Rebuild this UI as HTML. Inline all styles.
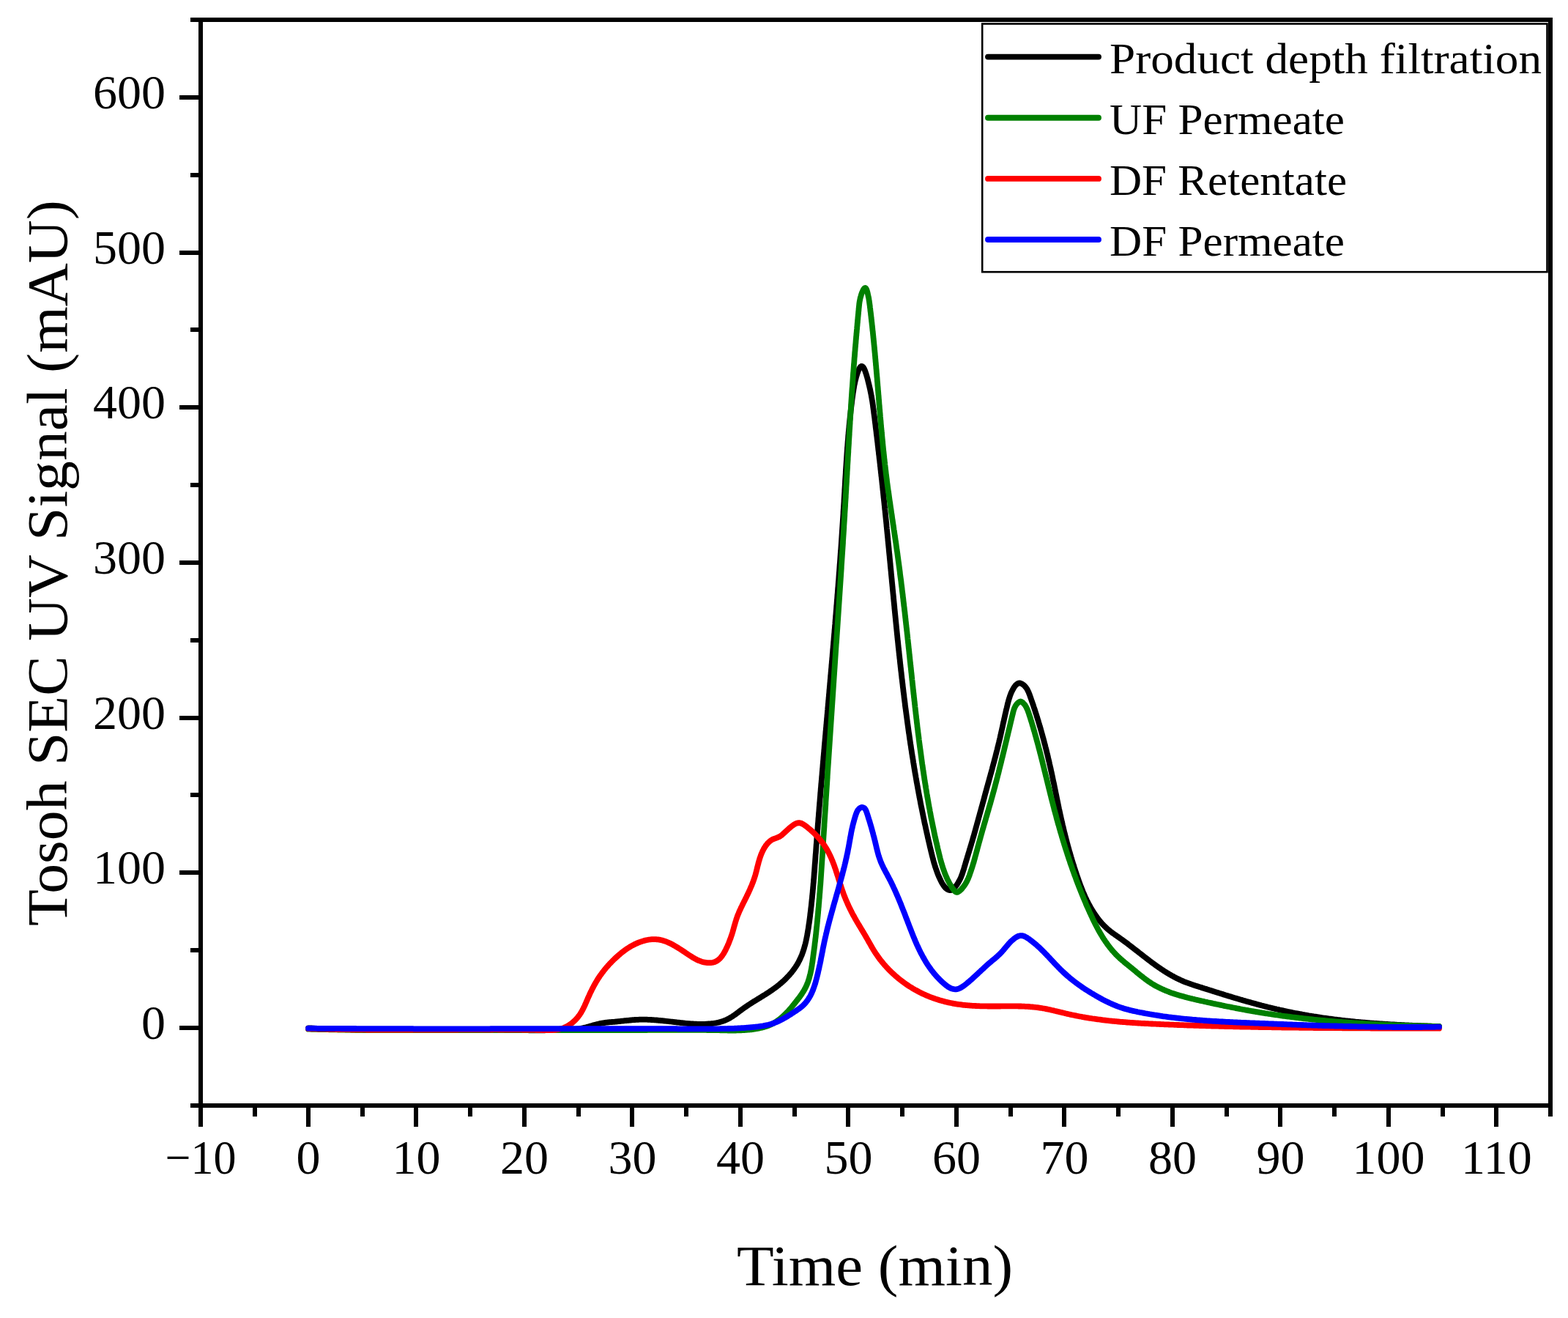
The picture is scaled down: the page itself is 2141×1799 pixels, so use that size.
<!DOCTYPE html>
<html><head><meta charset="utf-8"><title>Tosoh SEC UV Signal</title>
<style>html,body{margin:0;padding:0;background:#fff;overflow:hidden}svg{display:block}text{font-family:"Liberation Serif",serif;fill:#000}</style></head><body>
<svg xmlns="http://www.w3.org/2000/svg" width="2141" height="1799" viewBox="0 0 2141 1799">
<rect x="0" y="0" width="2141" height="1799" fill="#fff"/>
<path d="M421.0,1403.3L422.5,1403.4L424.0,1403.5L425.5,1403.5L427.0,1403.6L428.5,1403.7L430.0,1403.8L431.5,1403.8L433.0,1403.9L434.5,1404.0L436.0,1404.0L437.5,1404.1L439.0,1404.2L440.5,1404.2L442.0,1404.3L443.5,1404.3L445.0,1404.4L446.5,1404.5L448.0,1404.5L449.5,1404.6L451.0,1404.6L452.5,1404.7L454.0,1404.7L455.5,1404.8L457.0,1404.8L458.5,1404.9L460.0,1404.9L461.5,1405.0L463.0,1405.0L464.5,1405.1L466.0,1405.1L467.5,1405.2L469.0,1405.2L470.5,1405.2L472.0,1405.3L473.5,1405.3L475.0,1405.4L476.5,1405.4L478.0,1405.4L479.5,1405.5L481.0,1405.5L482.5,1405.5L484.0,1405.6L485.5,1405.6L487.0,1405.6L488.5,1405.6L490.0,1405.7L491.5,1405.7L493.0,1405.7L494.5,1405.7L496.0,1405.8L497.5,1405.8L499.0,1405.8L500.5,1405.8L502.0,1405.9L503.5,1405.9L505.0,1405.9L506.5,1405.9L508.0,1405.9L509.5,1405.9L511.0,1406.0L512.5,1406.0L514.0,1406.0L515.5,1406.0L517.0,1406.0L518.5,1406.0L520.0,1406.0L521.5,1406.1L523.0,1406.1L524.5,1406.1L526.0,1406.1L527.5,1406.1L529.0,1406.1L530.5,1406.1L532.0,1406.1L533.5,1406.1L535.0,1406.1L536.5,1406.1L538.0,1406.1L539.5,1406.1L541.0,1406.1L542.5,1406.1L544.0,1406.2L545.5,1406.2L547.0,1406.2L548.5,1406.2L550.0,1406.2L551.5,1406.2L553.0,1406.2L554.5,1406.2L556.0,1406.2L557.5,1406.2L559.0,1406.2L560.5,1406.2L562.0,1406.1L563.5,1406.1L565.0,1406.1L566.5,1406.1L568.0,1406.1L569.5,1406.1L571.0,1406.1L572.5,1406.1L574.0,1406.1L575.5,1406.1L577.0,1406.1L578.5,1406.1L580.0,1406.1L581.5,1406.1L583.0,1406.1L584.5,1406.1L586.0,1406.1L587.5,1406.1L589.0,1406.1L590.5,1406.1L592.0,1406.1L593.5,1406.0L595.0,1406.0L596.5,1406.0L598.0,1406.0L599.5,1406.0L601.0,1406.0L602.5,1406.0L604.0,1406.0L605.5,1406.0L607.0,1406.0L608.5,1406.0L610.0,1406.0L611.5,1406.0L613.0,1406.0L614.5,1405.9L616.0,1405.9L617.5,1405.9L619.0,1405.9L620.5,1405.9L622.0,1405.9L623.5,1405.9L625.0,1405.9L626.5,1405.9L628.0,1405.9L629.5,1405.9L631.0,1405.9L632.5,1405.9L634.0,1405.9L635.5,1405.9L637.0,1405.9L638.5,1405.9L640.0,1405.9L641.5,1405.9L643.0,1405.8L644.5,1405.8L646.0,1405.8L647.5,1405.8L649.0,1405.8L650.5,1405.8L652.0,1405.8L653.5,1405.8L655.0,1405.8L656.5,1405.8L658.0,1405.8L659.5,1405.8L661.0,1405.8L662.5,1405.8L664.0,1405.8L665.5,1405.8L667.0,1405.8L668.5,1405.8L670.0,1405.9L671.5,1405.9L673.0,1405.9L674.5,1405.9L676.0,1405.9L677.5,1405.9L679.0,1405.9L680.5,1405.9L682.0,1405.9L683.5,1405.9L685.0,1405.9L686.5,1405.9L688.0,1405.9L689.5,1406.0L691.0,1406.0L692.5,1406.0L694.0,1406.0L695.5,1406.0L697.0,1406.0L698.5,1406.0L700.0,1406.0L701.5,1406.1L703.0,1406.1L704.5,1406.1L706.0,1406.1L707.5,1406.1L709.1,1406.1L710.6,1406.2L712.1,1406.2L713.6,1406.2L715.1,1406.2L716.6,1406.2L718.1,1406.2L719.6,1406.2L721.1,1406.2L722.6,1406.3L724.1,1406.3L725.6,1406.3L727.1,1406.3L728.6,1406.3L730.1,1406.3L731.6,1406.3L733.1,1406.3L734.6,1406.3L736.1,1406.3L737.6,1406.3L739.1,1406.3L740.6,1406.3L742.1,1406.3L743.6,1406.3L745.1,1406.2L746.6,1406.2L748.1,1406.2L749.6,1406.2L751.1,1406.2L752.6,1406.2L754.1,1406.1L755.6,1406.1L757.1,1406.1L758.6,1406.0L760.0,1406.0L761.5,1406.0L763.0,1405.9L764.5,1405.9L766.0,1405.8L767.5,1405.8L769.0,1405.7L770.5,1405.7L772.0,1405.6L773.5,1405.5L775.0,1405.5L776.5,1405.4L778.0,1405.3L779.5,1405.3L781.0,1405.2L782.5,1405.1L784.0,1404.9L785.5,1404.8L787.0,1404.7L788.5,1404.5L789.9,1404.3L791.4,1404.1L792.9,1403.8L794.4,1403.5L795.8,1403.2L797.3,1402.9L798.7,1402.5L800.2,1402.2L801.7,1401.8L803.1,1401.4L804.6,1401.0L806.0,1400.6L807.5,1400.2L808.9,1399.8L810.4,1399.3L811.8,1398.9L813.3,1398.6L814.7,1398.2L816.2,1397.8L817.6,1397.5L819.1,1397.1L820.6,1396.8L822.0,1396.5L823.5,1396.3L825.0,1396.1L826.5,1395.9L828.0,1395.7L829.5,1395.5L831.0,1395.4L832.5,1395.2L834.0,1395.1L835.5,1395.0L837.0,1394.9L838.5,1394.8L840.0,1394.6L841.5,1394.5L843.0,1394.4L844.4,1394.2L845.9,1394.1L847.4,1393.9L848.9,1393.7L850.4,1393.6L851.9,1393.4L853.4,1393.2L854.9,1393.1L856.4,1392.9L857.9,1392.8L859.4,1392.6L860.9,1392.5L862.4,1392.4L863.9,1392.2L865.4,1392.1L866.9,1392.0L868.4,1391.9L869.9,1391.8L871.4,1391.8L872.9,1391.7L874.3,1391.7L875.8,1391.7L877.3,1391.7L878.8,1391.7L880.3,1391.7L881.8,1391.7L883.3,1391.7L884.8,1391.8L886.3,1391.9L887.8,1391.9L889.3,1392.0L890.8,1392.1L892.3,1392.2L893.8,1392.3L895.3,1392.4L896.8,1392.5L898.2,1392.6L899.7,1392.8L901.2,1392.9L902.7,1393.1L904.2,1393.2L905.7,1393.4L907.2,1393.5L908.7,1393.7L910.2,1393.8L911.7,1394.0L913.2,1394.2L914.7,1394.3L916.2,1394.5L917.7,1394.7L919.2,1394.9L920.7,1395.0L922.2,1395.2L923.7,1395.4L925.2,1395.6L926.7,1395.7L928.2,1395.9L929.7,1396.1L931.2,1396.2L932.7,1396.4L934.2,1396.5L935.7,1396.7L937.2,1396.8L938.7,1397.0L940.2,1397.1L941.7,1397.2L943.2,1397.3L944.7,1397.4L946.2,1397.5L947.7,1397.6L949.2,1397.7L950.7,1397.7L952.2,1397.8L953.7,1397.8L955.2,1397.9L956.7,1397.9L958.2,1397.9L959.7,1397.9L961.2,1397.8L962.7,1397.8L964.2,1397.7L965.7,1397.6L967.2,1397.5L968.7,1397.4L970.1,1397.3L971.6,1397.1L973.1,1397.0L974.6,1396.8L976.1,1396.5L977.5,1396.3L979.0,1396.0L980.5,1395.7L981.9,1395.4L983.3,1395.0L984.8,1394.6L986.2,1394.1L987.6,1393.7L988.9,1393.2L990.3,1392.6L991.7,1392.0L993.0,1391.4L994.3,1390.7L995.7,1390.0L997.0,1389.3L998.2,1388.5L999.5,1387.7L1000.8,1386.9L1002.0,1386.0L1003.3,1385.2L1004.5,1384.3L1005.7,1383.4L1007.0,1382.5L1008.2,1381.6L1009.4,1380.6L1010.6,1379.7L1011.9,1378.8L1013.1,1377.9L1014.3,1377.0L1015.6,1376.1L1016.8,1375.2L1018.0,1374.4L1019.3,1373.5L1020.5,1372.7L1021.8,1371.9L1023.0,1371.0L1024.3,1370.2L1025.6,1369.4L1026.8,1368.6L1028.1,1367.8L1029.3,1367.0L1030.6,1366.3L1031.9,1365.5L1033.1,1364.7L1034.4,1363.9L1035.7,1363.1L1036.9,1362.4L1038.2,1361.6L1039.5,1360.8L1040.7,1360.0L1042.0,1359.3L1043.2,1358.5L1044.5,1357.7L1045.8,1356.9L1047.0,1356.1L1048.3,1355.3L1049.5,1354.5L1050.7,1353.7L1052.0,1352.8L1053.2,1352.0L1054.4,1351.2L1055.6,1350.3L1056.9,1349.4L1058.1,1348.6L1059.3,1347.7L1060.5,1346.8L1061.7,1345.8L1062.8,1344.9L1064.0,1343.9L1065.2,1343.0L1066.3,1342.0L1067.5,1341.0L1068.6,1340.0L1069.8,1339.0L1070.9,1337.9L1072.0,1336.9L1073.1,1335.8L1074.1,1334.7L1075.2,1333.6L1076.3,1332.5L1077.3,1331.4L1078.3,1330.2L1079.3,1329.1L1080.3,1327.9L1081.3,1326.7L1082.2,1325.5L1083.1,1324.3L1084.0,1323.1L1084.9,1321.9L1085.8,1320.6L1086.6,1319.4L1087.4,1318.1L1088.2,1316.9L1089.0,1315.6L1089.7,1314.3L1090.4,1313.0L1091.1,1311.7L1091.8,1310.3L1092.4,1309.0L1093.0,1307.6L1093.6,1306.3L1094.2,1304.9L1094.8,1303.6L1095.3,1302.2L1095.8,1300.8L1096.3,1299.4L1096.8,1298.0L1097.2,1296.6L1097.7,1295.2L1098.1,1293.7L1098.5,1292.3L1098.9,1290.9L1099.3,1289.4L1099.7,1288.0L1100.0,1286.5L1100.4,1285.1L1100.7,1283.6L1101.0,1282.2L1101.3,1280.7L1101.6,1279.2L1101.9,1277.7L1102.2,1276.3L1102.4,1274.8L1102.7,1273.3L1102.9,1271.8L1103.2,1270.3L1103.4,1268.9L1103.7,1267.4L1103.9,1265.9L1104.1,1264.4L1104.3,1262.9L1104.5,1261.4L1104.8,1259.9L1105.0,1258.4L1105.2,1256.9L1105.4,1255.5L1105.6,1254.0L1105.8,1252.5L1106.0,1251.0L1106.2,1249.5L1106.3,1248.0L1106.5,1246.5L1106.7,1245.0L1106.9,1243.5L1107.1,1242.0L1107.2,1240.5L1107.4,1239.1L1107.6,1237.6L1107.8,1236.1L1107.9,1234.6L1108.1,1233.1L1108.2,1231.6L1108.4,1230.1L1108.5,1228.6L1108.7,1227.1L1108.9,1225.6L1109.0,1224.1L1109.1,1222.6L1109.3,1221.2L1109.4,1219.7L1109.6,1218.2L1109.7,1216.7L1109.8,1215.2L1110.0,1213.7L1110.1,1212.2L1110.2,1210.7L1110.4,1209.2L1110.5,1207.7L1110.6,1206.2L1110.8,1204.7L1110.9,1203.2L1111.0,1201.7L1111.1,1200.2L1111.3,1198.8L1111.4,1197.3L1111.5,1195.8L1111.6,1194.3L1111.7,1192.8L1111.8,1191.3L1112.0,1189.8L1112.1,1188.3L1112.2,1186.8L1112.3,1185.3L1112.4,1183.8L1112.5,1182.3L1112.6,1180.8L1112.7,1179.3L1112.9,1177.8L1113.0,1176.3L1113.1,1174.8L1113.2,1173.4L1113.3,1171.9L1113.4,1170.4L1113.5,1168.9L1113.6,1167.4L1113.7,1165.9L1113.9,1164.4L1114.0,1162.9L1114.1,1161.4L1114.2,1159.9L1114.3,1158.4L1114.4,1156.9L1114.5,1155.4L1114.6,1153.9L1114.7,1152.4L1114.9,1150.9L1115.0,1149.4L1115.1,1147.9L1115.2,1146.4L1115.3,1144.9L1115.4,1143.4L1115.5,1142.0L1115.7,1140.5L1115.8,1139.0L1115.9,1137.5L1116.0,1136.0L1116.1,1134.5L1116.2,1133.0L1116.4,1131.5L1116.5,1130.0L1116.6,1128.5L1116.7,1127.0L1116.8,1125.5L1116.9,1124.0L1117.1,1122.5L1117.2,1121.0L1117.3,1119.5L1117.4,1118.0L1117.5,1116.5L1117.7,1115.0L1117.8,1113.5L1117.9,1112.0L1118.0,1110.5L1118.1,1109.0L1118.3,1107.5L1118.4,1106.1L1118.5,1104.6L1118.6,1103.1L1118.7,1101.6L1118.9,1100.1L1119.0,1098.6L1119.1,1097.1L1119.2,1095.6L1119.4,1094.1L1119.5,1092.6L1119.6,1091.1L1119.7,1089.6L1119.9,1088.1L1120.0,1086.6L1120.1,1085.1L1120.2,1083.6L1120.3,1082.1L1120.5,1080.6L1120.6,1079.1L1120.7,1077.6L1120.8,1076.1L1121.0,1074.6L1121.1,1073.1L1121.2,1071.6L1121.3,1070.1L1121.5,1068.6L1121.6,1067.2L1121.7,1065.7L1121.9,1064.2L1122.0,1062.7L1122.1,1061.2L1122.2,1059.7L1122.4,1058.2L1122.5,1056.7L1122.6,1055.2L1122.7,1053.7L1122.9,1052.2L1123.0,1050.7L1123.1,1049.2L1123.3,1047.7L1123.4,1046.2L1123.5,1044.7L1123.6,1043.2L1123.8,1041.7L1123.9,1040.2L1124.0,1038.7L1124.2,1037.2L1124.3,1035.7L1124.4,1034.2L1124.5,1032.7L1124.7,1031.2L1124.8,1029.8L1124.9,1028.3L1125.1,1026.8L1125.2,1025.3L1125.3,1023.8L1125.5,1022.3L1125.6,1020.8L1125.7,1019.3L1125.8,1017.8L1126.0,1016.3L1126.1,1014.8L1126.2,1013.3L1126.4,1011.8L1126.5,1010.3L1126.6,1008.8L1126.8,1007.3L1126.9,1005.8L1127.0,1004.3L1127.2,1002.8L1127.3,1001.3L1127.4,999.8L1127.5,998.3L1127.7,996.9L1127.8,995.4L1127.9,993.9L1128.1,992.4L1128.2,990.9L1128.3,989.4L1128.5,987.9L1128.6,986.4L1128.7,984.9L1128.9,983.4L1129.0,981.9L1129.1,980.4L1129.3,978.9L1129.4,977.4L1129.5,975.9L1129.7,974.4L1129.8,972.9L1129.9,971.4L1130.0,969.9L1130.2,968.4L1130.3,967.0L1130.4,965.5L1130.6,964.0L1130.7,962.5L1130.8,961.0L1131.0,959.5L1131.1,958.0L1131.2,956.5L1131.4,955.0L1131.5,953.5L1131.6,952.0L1131.8,950.5L1131.9,949.0L1132.0,947.5L1132.2,946.0L1132.3,944.5L1132.4,943.1L1132.5,941.6L1132.7,940.1L1132.8,938.6L1132.9,937.1L1133.1,935.6L1133.2,934.1L1133.3,932.6L1133.5,931.1L1133.6,929.6L1133.7,928.1L1133.9,926.6L1134.0,925.1L1134.1,923.6L1134.2,922.1L1134.4,920.6L1134.5,919.2L1134.6,917.7L1134.8,916.2L1134.9,914.7L1135.0,913.2L1135.2,911.7L1135.3,910.2L1135.4,908.7L1135.5,907.2L1135.7,905.7L1135.8,904.2L1135.9,902.7L1136.1,901.2L1136.2,899.7L1136.3,898.2L1136.5,896.8L1136.6,895.3L1136.7,893.8L1136.8,892.3L1137.0,890.8L1137.1,889.3L1137.2,887.8L1137.3,886.3L1137.5,884.8L1137.6,883.3L1137.7,881.8L1137.9,880.3L1138.0,878.8L1138.1,877.3L1138.2,875.8L1138.4,874.4L1138.5,872.9L1138.6,871.4L1138.7,869.9L1138.9,868.4L1139.0,866.9L1139.1,865.4L1139.3,863.9L1139.4,862.4L1139.5,860.9L1139.6,859.4L1139.8,857.9L1139.9,856.4L1140.0,854.9L1140.1,853.4L1140.3,851.9L1140.4,850.5L1140.5,849.0L1140.6,847.5L1140.7,846.0L1140.9,844.5L1141.0,843.0L1141.1,841.5L1141.2,840.0L1141.4,838.5L1141.5,837.0L1141.6,835.5L1141.7,834.0L1141.9,832.5L1142.0,831.0L1142.1,829.5L1142.2,828.0L1142.3,826.5L1142.5,825.1L1142.6,823.6L1142.7,822.1L1142.8,820.6L1142.9,819.1L1143.1,817.6L1143.2,816.1L1143.3,814.6L1143.4,813.1L1143.5,811.6L1143.7,810.1L1143.8,808.6L1143.9,807.1L1144.0,805.6L1144.1,804.1L1144.2,802.6L1144.4,801.1L1144.5,799.6L1144.6,798.1L1144.7,796.6L1144.8,795.2L1144.9,793.7L1145.1,792.2L1145.2,790.7L1145.3,789.2L1145.4,787.7L1145.5,786.2L1145.6,784.7L1145.7,783.2L1145.8,781.7L1146.0,780.2L1146.1,778.7L1146.2,777.2L1146.3,775.7L1146.4,774.2L1146.5,772.7L1146.6,771.2L1146.7,769.7L1146.9,768.2L1147.0,766.7L1147.1,765.2L1147.2,763.7L1147.3,762.2L1147.4,760.7L1147.5,759.2L1147.6,757.7L1147.7,756.2L1147.8,754.7L1147.9,753.2L1148.0,751.7L1148.2,750.3L1148.3,748.8L1148.4,747.3L1148.5,745.8L1148.6,744.3L1148.7,742.8L1148.8,741.3L1148.9,739.8L1149.0,738.3L1149.1,736.8L1149.2,735.3L1149.3,733.8L1149.4,732.3L1149.5,730.8L1149.6,729.3L1149.7,727.8L1149.8,726.3L1149.9,724.8L1150.0,723.3L1150.1,721.8L1150.2,720.3L1150.3,718.8L1150.4,717.3L1150.5,715.8L1150.6,714.3L1150.7,712.8L1150.8,711.3L1150.9,709.8L1151.0,708.3L1151.1,706.8L1151.2,705.3L1151.3,703.8L1151.4,702.3L1151.5,700.8L1151.5,699.3L1151.6,697.8L1151.7,696.3L1151.8,694.8L1151.9,693.2L1152.0,691.7L1152.1,690.2L1152.2,688.7L1152.3,687.2L1152.4,685.7L1152.5,684.2L1152.5,682.7L1152.6,681.2L1152.7,679.7L1152.8,678.2L1152.9,676.7L1153.0,675.2L1153.1,673.7L1153.2,672.2L1153.3,670.7L1153.3,669.2L1153.4,667.7L1153.5,666.2L1153.6,664.7L1153.7,663.2L1153.8,661.7L1153.9,660.2L1154.0,658.7L1154.0,657.2L1154.1,655.7L1154.2,654.2L1154.3,652.7L1154.4,651.2L1154.5,649.7L1154.6,648.2L1154.7,646.7L1154.8,645.2L1154.8,643.7L1154.9,642.2L1155.0,640.7L1155.1,639.2L1155.2,637.7L1155.3,636.2L1155.4,634.7L1155.5,633.2L1155.6,631.7L1155.7,630.2L1155.8,628.7L1155.9,627.2L1156.0,625.7L1156.1,624.2L1156.2,622.7L1156.3,621.2L1156.4,619.7L1156.5,618.2L1156.6,616.7L1156.7,615.2L1156.8,613.7L1156.9,612.2L1157.0,610.7L1157.2,609.2L1157.3,607.7L1157.4,606.2L1157.5,604.7L1157.6,603.2L1157.7,601.7L1157.9,600.3L1158.0,598.8L1158.1,597.3L1158.2,595.8L1158.3,594.3L1158.5,592.8L1158.6,591.3L1158.7,589.8L1158.9,588.4L1159.0,586.9L1159.1,585.4L1159.3,583.9L1159.4,582.4L1159.5,580.9L1159.7,579.5L1159.8,578.0L1160.0,576.5L1160.1,575.0L1160.3,573.5L1160.4,572.1L1160.6,570.6L1160.7,569.1L1160.9,567.6L1161.0,566.2L1161.2,564.7L1161.4,563.2L1161.5,561.7L1161.7,560.3L1161.9,558.8L1162.1,557.3L1162.2,555.9L1162.4,554.4L1162.6,552.9L1162.8,551.4L1163.0,550.0L1163.1,548.5L1163.3,547.1L1163.5,545.6L1163.7,544.1L1163.9,542.7L1164.1,541.2L1164.3,539.8L1164.5,538.3L1164.7,536.8L1164.9,535.4L1165.2,533.9L1165.4,532.5L1165.6,531.0L1165.9,529.5L1166.1,528.0L1166.4,526.4L1166.7,524.8L1167.1,523.2L1167.4,521.5L1167.8,519.8L1168.3,518.0L1168.7,516.1L1169.2,514.3L1169.8,512.4L1170.3,510.6L1170.9,508.9L1171.5,507.2L1172.1,505.6L1172.8,504.2L1173.4,502.9L1174.1,501.8L1174.7,500.9L1175.4,500.3L1176.1,499.9L1176.7,499.8L1177.4,500.1L1178.1,500.6L1178.7,501.3L1179.4,502.3L1180.0,503.4L1180.6,504.8L1181.2,506.3L1181.8,507.9L1182.4,509.7L1183.0,511.5L1183.5,513.4L1184.1,515.3L1184.6,517.2L1185.1,519.1L1185.5,521.0L1186.0,522.8L1186.4,524.5L1186.8,526.2L1187.2,527.9L1187.6,529.6L1188.0,531.2L1188.3,532.8L1188.6,534.3L1188.9,535.8L1189.2,537.3L1189.5,538.7L1189.8,540.2L1190.0,541.6L1190.3,543.0L1190.5,544.4L1190.7,545.8L1191.0,547.1L1191.2,548.5L1191.4,549.8L1191.6,551.2L1191.8,552.5L1192.0,553.8L1192.1,555.2L1192.3,556.5L1192.5,557.9L1192.7,559.2L1192.9,560.6L1193.1,562.0L1193.2,563.4L1193.4,564.8L1193.6,566.2L1193.8,567.7L1194.0,569.1L1194.2,570.5L1194.4,572.0L1194.5,573.5L1194.7,574.9L1194.9,576.4L1195.1,577.9L1195.3,579.4L1195.5,580.9L1195.6,582.4L1195.8,583.9L1196.0,585.4L1196.2,586.9L1196.4,588.4L1196.6,589.9L1196.7,591.5L1196.9,593.0L1197.1,594.5L1197.3,596.0L1197.5,597.5L1197.6,599.1L1197.8,600.6L1198.0,602.1L1198.2,603.6L1198.4,605.1L1198.5,606.6L1198.7,608.2L1198.9,609.7L1199.1,611.2L1199.2,612.7L1199.4,614.2L1199.6,615.7L1199.8,617.2L1199.9,618.7L1200.1,620.2L1200.3,621.7L1200.5,623.2L1200.6,624.7L1200.8,626.2L1201.0,627.7L1201.2,629.2L1201.3,630.7L1201.5,632.2L1201.7,633.7L1201.8,635.2L1202.0,636.7L1202.2,638.2L1202.3,639.7L1202.5,641.2L1202.7,642.7L1202.8,644.2L1203.0,645.7L1203.2,647.2L1203.3,648.7L1203.5,650.1L1203.7,651.6L1203.8,653.1L1204.0,654.6L1204.2,656.1L1204.3,657.6L1204.5,659.1L1204.6,660.6L1204.8,662.1L1205.0,663.5L1205.1,665.0L1205.3,666.5L1205.4,668.0L1205.6,669.5L1205.8,671.0L1205.9,672.5L1206.1,673.9L1206.2,675.4L1206.4,676.9L1206.5,678.4L1206.7,679.9L1206.9,681.4L1207.0,682.9L1207.2,684.4L1207.3,685.8L1207.5,687.3L1207.6,688.8L1207.8,690.3L1207.9,691.8L1208.1,693.3L1208.2,694.8L1208.4,696.2L1208.6,697.7L1208.7,699.2L1208.9,700.7L1209.0,702.2L1209.2,703.7L1209.3,705.2L1209.5,706.7L1209.6,708.2L1209.8,709.6L1209.9,711.1L1210.1,712.6L1210.2,714.1L1210.4,715.6L1210.5,717.1L1210.6,718.6L1210.8,720.1L1210.9,721.6L1211.1,723.0L1211.2,724.5L1211.4,726.0L1211.5,727.5L1211.7,729.0L1211.8,730.5L1212.0,732.0L1212.1,733.5L1212.3,735.0L1212.4,736.5L1212.5,738.0L1212.7,739.4L1212.8,740.9L1213.0,742.4L1213.1,743.9L1213.3,745.4L1213.4,746.9L1213.6,748.4L1213.7,749.9L1213.8,751.4L1214.0,752.9L1214.1,754.4L1214.3,755.9L1214.4,757.4L1214.6,758.8L1214.7,760.3L1214.8,761.8L1215.0,763.3L1215.1,764.8L1215.3,766.3L1215.4,767.8L1215.6,769.3L1215.7,770.8L1215.8,772.3L1216.0,773.8L1216.1,775.3L1216.3,776.8L1216.4,778.3L1216.6,779.8L1216.7,781.3L1216.8,782.7L1217.0,784.2L1217.1,785.7L1217.3,787.2L1217.4,788.7L1217.6,790.2L1217.7,791.7L1217.8,793.2L1218.0,794.7L1218.1,796.2L1218.3,797.7L1218.4,799.2L1218.6,800.7L1218.7,802.2L1218.8,803.7L1219.0,805.2L1219.1,806.7L1219.3,808.2L1219.4,809.7L1219.6,811.1L1219.7,812.6L1219.9,814.1L1220.0,815.6L1220.1,817.1L1220.3,818.6L1220.4,820.1L1220.6,821.6L1220.7,823.1L1220.9,824.6L1221.0,826.1L1221.2,827.6L1221.3,829.1L1221.4,830.6L1221.6,832.1L1221.7,833.6L1221.9,835.1L1222.0,836.6L1222.2,838.1L1222.3,839.5L1222.5,841.0L1222.6,842.5L1222.8,844.0L1222.9,845.5L1223.1,847.0L1223.2,848.5L1223.4,850.0L1223.5,851.5L1223.7,853.0L1223.8,854.5L1224.0,856.0L1224.1,857.5L1224.3,859.0L1224.4,860.5L1224.6,862.0L1224.7,863.5L1224.9,865.0L1225.0,866.5L1225.2,867.9L1225.3,869.4L1225.5,870.9L1225.6,872.4L1225.8,873.9L1226.0,875.4L1226.1,876.9L1226.3,878.4L1226.4,879.9L1226.6,881.4L1226.7,882.9L1226.9,884.4L1227.1,885.9L1227.2,887.4L1227.4,888.9L1227.5,890.4L1227.7,891.8L1227.8,893.3L1228.0,894.8L1228.2,896.3L1228.3,897.8L1228.5,899.3L1228.7,900.8L1228.8,902.3L1229.0,903.8L1229.1,905.3L1229.3,906.8L1229.5,908.3L1229.6,909.8L1229.8,911.2L1230.0,912.7L1230.1,914.2L1230.3,915.7L1230.5,917.2L1230.7,918.7L1230.8,920.2L1231.0,921.7L1231.2,923.2L1231.3,924.7L1231.5,926.2L1231.7,927.6L1231.9,929.1L1232.0,930.6L1232.2,932.1L1232.4,933.6L1232.6,935.1L1232.7,936.6L1232.9,938.1L1233.1,939.6L1233.3,941.1L1233.4,942.5L1233.6,944.0L1233.8,945.5L1234.0,947.0L1234.2,948.5L1234.4,950.0L1234.5,951.5L1234.7,953.0L1234.9,954.5L1235.1,955.9L1235.3,957.4L1235.5,958.9L1235.7,960.4L1235.8,961.9L1236.0,963.4L1236.2,964.9L1236.4,966.4L1236.6,967.8L1236.8,969.3L1237.0,970.8L1237.2,972.3L1237.4,973.8L1237.6,975.3L1237.8,976.8L1238.0,978.3L1238.2,979.7L1238.4,981.2L1238.6,982.7L1238.8,984.2L1239.0,985.7L1239.2,987.2L1239.4,988.7L1239.6,990.1L1239.8,991.6L1240.0,993.1L1240.2,994.6L1240.4,996.1L1240.6,997.6L1240.8,999.0L1241.0,1000.5L1241.3,1002.0L1241.5,1003.5L1241.7,1005.0L1241.9,1006.5L1242.1,1007.9L1242.3,1009.4L1242.6,1010.9L1242.8,1012.4L1243.0,1013.9L1243.2,1015.4L1243.4,1016.8L1243.7,1018.3L1243.9,1019.8L1244.1,1021.3L1244.3,1022.8L1244.6,1024.3L1244.8,1025.7L1245.0,1027.2L1245.2,1028.7L1245.5,1030.2L1245.7,1031.7L1245.9,1033.1L1246.2,1034.6L1246.4,1036.1L1246.7,1037.6L1246.9,1039.1L1247.1,1040.6L1247.4,1042.0L1247.6,1043.5L1247.9,1045.0L1248.1,1046.5L1248.3,1048.0L1248.6,1049.4L1248.8,1050.9L1249.1,1052.4L1249.3,1053.9L1249.6,1055.4L1249.8,1056.8L1250.1,1058.3L1250.4,1059.8L1250.6,1061.3L1250.9,1062.7L1251.1,1064.2L1251.4,1065.7L1251.6,1067.2L1251.9,1068.7L1252.2,1070.1L1252.4,1071.6L1252.7,1073.1L1253.0,1074.6L1253.2,1076.0L1253.5,1077.5L1253.8,1079.0L1254.1,1080.5L1254.3,1082.0L1254.6,1083.4L1254.9,1084.9L1255.2,1086.4L1255.4,1087.9L1255.7,1089.3L1256.0,1090.8L1256.3,1092.3L1256.6,1093.8L1256.8,1095.2L1257.1,1096.7L1257.4,1098.2L1257.7,1099.7L1258.0,1101.1L1258.3,1102.6L1258.6,1104.1L1258.9,1105.5L1259.2,1107.0L1259.5,1108.5L1259.8,1110.0L1260.1,1111.4L1260.4,1112.9L1260.7,1114.4L1261.0,1115.9L1261.3,1117.3L1261.6,1118.8L1261.9,1120.3L1262.2,1121.7L1262.5,1123.2L1262.8,1124.7L1263.2,1126.1L1263.5,1127.6L1263.8,1129.1L1264.1,1130.5L1264.4,1132.0L1264.8,1133.5L1265.1,1134.9L1265.4,1136.4L1265.7,1137.9L1266.1,1139.3L1266.4,1140.8L1266.7,1142.3L1267.0,1143.7L1267.4,1145.2L1267.7,1146.6L1268.0,1148.1L1268.4,1149.6L1268.7,1151.0L1269.1,1152.5L1269.4,1153.9L1269.7,1155.4L1270.1,1156.9L1270.4,1158.3L1270.8,1159.8L1271.1,1161.2L1271.5,1162.7L1271.8,1164.1L1272.2,1165.6L1272.5,1167.0L1272.9,1168.5L1273.3,1169.9L1273.7,1171.4L1274.0,1172.8L1274.4,1174.3L1274.8,1175.7L1275.2,1177.2L1275.6,1178.6L1276.1,1180.0L1276.5,1181.5L1276.9,1182.9L1277.4,1184.3L1277.9,1185.7L1278.4,1187.1L1278.9,1188.6L1279.4,1190.0L1279.9,1191.4L1280.4,1192.8L1281.0,1194.2L1281.6,1195.6L1282.2,1197.0L1282.8,1198.3L1283.5,1199.7L1284.1,1201.1L1284.8,1202.5L1285.5,1203.8L1286.2,1205.2L1287.0,1206.5L1287.8,1207.8L1288.7,1209.1L1289.6,1210.3L1290.6,1211.5L1291.7,1212.5L1292.9,1213.5L1294.2,1214.3L1295.6,1214.8L1296.9,1215.1L1298.3,1215.1L1299.5,1214.7L1300.7,1214.0L1301.9,1213.0L1303.0,1212.0L1304.0,1210.8L1305.0,1209.7L1305.9,1208.5L1306.8,1207.3L1307.6,1206.0L1308.4,1204.7L1309.1,1203.4L1309.8,1202.1L1310.5,1200.8L1311.2,1199.4L1311.8,1198.1L1312.4,1196.7L1312.9,1195.3L1313.5,1193.9L1314.0,1192.5L1314.5,1191.0L1314.9,1189.6L1315.4,1188.1L1315.9,1186.7L1316.3,1185.2L1316.7,1183.8L1317.2,1182.3L1317.6,1180.9L1318.0,1179.4L1318.4,1178.0L1318.9,1176.5L1319.3,1175.1L1319.7,1173.6L1320.2,1172.2L1320.6,1170.8L1321.0,1169.3L1321.5,1167.9L1321.9,1166.5L1322.3,1165.0L1322.8,1163.6L1323.2,1162.2L1323.6,1160.8L1324.1,1159.3L1324.5,1157.9L1324.9,1156.5L1325.4,1155.0L1325.8,1153.6L1326.2,1152.2L1326.6,1150.7L1327.1,1149.3L1327.5,1147.9L1327.9,1146.4L1328.3,1145.0L1328.7,1143.6L1329.2,1142.1L1329.6,1140.7L1330.0,1139.2L1330.4,1137.8L1330.8,1136.4L1331.2,1134.9L1331.6,1133.5L1332.0,1132.0L1332.4,1130.6L1332.8,1129.1L1333.2,1127.7L1333.6,1126.3L1334.0,1124.8L1334.4,1123.4L1334.8,1121.9L1335.2,1120.5L1335.6,1119.0L1336.0,1117.6L1336.4,1116.1L1336.8,1114.7L1337.2,1113.2L1337.6,1111.8L1338.0,1110.3L1338.4,1108.9L1338.8,1107.4L1339.2,1106.0L1339.6,1104.5L1340.0,1103.1L1340.4,1101.6L1340.8,1100.2L1341.2,1098.7L1341.6,1097.3L1342.0,1095.8L1342.4,1094.4L1342.8,1092.9L1343.2,1091.5L1343.6,1090.0L1344.0,1088.6L1344.4,1087.1L1344.7,1085.7L1345.1,1084.3L1345.5,1082.8L1345.9,1081.4L1346.3,1079.9L1346.7,1078.5L1347.1,1077.0L1347.5,1075.6L1347.9,1074.1L1348.3,1072.7L1348.7,1071.2L1349.1,1069.8L1349.5,1068.4L1349.9,1066.9L1350.3,1065.5L1350.7,1064.0L1351.1,1062.6L1351.5,1061.1L1351.9,1059.7L1352.3,1058.3L1352.7,1056.8L1353.1,1055.4L1353.5,1053.9L1353.9,1052.5L1354.3,1051.0L1354.7,1049.6L1355.0,1048.1L1355.4,1046.7L1355.8,1045.2L1356.2,1043.8L1356.6,1042.3L1357.0,1040.9L1357.4,1039.5L1357.7,1038.0L1358.1,1036.6L1358.5,1035.1L1358.9,1033.7L1359.3,1032.2L1359.6,1030.8L1360.0,1029.3L1360.4,1027.9L1360.7,1026.4L1361.1,1024.9L1361.5,1023.5L1361.8,1022.0L1362.2,1020.6L1362.6,1019.1L1362.9,1017.7L1363.3,1016.2L1363.6,1014.7L1364.0,1013.3L1364.3,1011.8L1364.7,1010.4L1365.0,1008.9L1365.4,1007.4L1365.7,1006.0L1366.0,1004.5L1366.4,1003.0L1366.7,1001.6L1367.0,1000.1L1367.4,998.6L1367.7,997.1L1368.0,995.7L1368.3,994.2L1368.7,992.7L1369.0,991.3L1369.3,989.8L1369.6,988.3L1369.9,986.8L1370.3,985.4L1370.6,983.9L1370.9,982.4L1371.2,981.0L1371.6,979.5L1371.9,978.0L1372.2,976.6L1372.5,975.1L1372.9,973.7L1373.2,972.2L1373.5,970.8L1373.9,969.3L1374.2,967.9L1374.6,966.4L1374.9,965.0L1375.3,963.5L1375.6,962.1L1376.0,960.6L1376.3,959.2L1376.7,957.8L1377.1,956.3L1377.5,954.9L1377.9,953.5L1378.4,952.1L1378.8,950.7L1379.3,949.2L1379.9,947.8L1380.4,946.4L1381.0,945.0L1381.7,943.6L1382.4,942.2L1383.2,940.7L1384.0,939.3L1384.8,937.9L1385.8,936.6L1386.7,935.4L1387.8,934.4L1388.9,933.5L1390.0,932.8L1391.2,932.5L1392.5,932.4L1393.8,932.7L1395.1,933.3L1396.4,934.1L1397.7,935.0L1398.8,936.1L1399.9,937.2L1400.8,938.3L1401.7,939.5L1402.5,940.8L1403.2,942.1L1403.8,943.4L1404.5,944.8L1405.0,946.2L1405.6,947.6L1406.1,949.0L1406.6,950.5L1407.1,951.9L1407.6,953.3L1408.1,954.7L1408.6,956.2L1409.1,957.6L1409.6,959.0L1410.1,960.5L1410.6,961.9L1411.1,963.3L1411.5,964.8L1412.0,966.2L1412.5,967.6L1413.0,969.1L1413.4,970.5L1413.9,971.9L1414.3,973.4L1414.8,974.8L1415.3,976.2L1415.7,977.7L1416.1,979.1L1416.6,980.5L1417.0,982.0L1417.5,983.4L1417.9,984.8L1418.3,986.3L1418.8,987.7L1419.2,989.2L1419.6,990.6L1420.0,992.0L1420.5,993.5L1420.9,994.9L1421.3,996.4L1421.7,997.8L1422.1,999.2L1422.5,1000.7L1422.9,1002.1L1423.3,1003.6L1423.7,1005.0L1424.1,1006.5L1424.5,1007.9L1424.9,1009.3L1425.3,1010.8L1425.6,1012.2L1426.0,1013.7L1426.4,1015.1L1426.8,1016.6L1427.2,1018.0L1427.5,1019.5L1427.9,1020.9L1428.3,1022.4L1428.6,1023.8L1429.0,1025.3L1429.3,1026.7L1429.7,1028.2L1430.1,1029.6L1430.4,1031.1L1430.8,1032.6L1431.1,1034.0L1431.4,1035.5L1431.8,1036.9L1432.1,1038.4L1432.5,1039.8L1432.8,1041.3L1433.1,1042.8L1433.5,1044.2L1433.8,1045.7L1434.1,1047.1L1434.5,1048.6L1434.8,1050.1L1435.1,1051.5L1435.4,1053.0L1435.8,1054.4L1436.1,1055.9L1436.4,1057.4L1436.7,1058.8L1437.0,1060.3L1437.3,1061.8L1437.6,1063.2L1437.9,1064.7L1438.2,1066.2L1438.6,1067.7L1438.9,1069.1L1439.2,1070.6L1439.5,1072.1L1439.8,1073.5L1440.1,1075.0L1440.4,1076.5L1440.7,1078.0L1441.0,1079.4L1441.3,1080.9L1441.6,1082.4L1441.9,1083.8L1442.2,1085.3L1442.5,1086.8L1442.8,1088.3L1443.1,1089.7L1443.4,1091.2L1443.7,1092.7L1444.0,1094.1L1444.3,1095.6L1444.6,1097.1L1444.9,1098.6L1445.2,1100.0L1445.5,1101.5L1445.8,1103.0L1446.1,1104.4L1446.5,1105.9L1446.8,1107.4L1447.1,1108.8L1447.4,1110.3L1447.7,1111.8L1448.0,1113.2L1448.4,1114.7L1448.7,1116.2L1449.0,1117.6L1449.3,1119.1L1449.7,1120.6L1450.0,1122.0L1450.4,1123.5L1450.7,1125.0L1451.0,1126.4L1451.4,1127.9L1451.7,1129.3L1452.1,1130.8L1452.4,1132.2L1452.8,1133.7L1453.1,1135.2L1453.5,1136.6L1453.9,1138.1L1454.2,1139.5L1454.6,1141.0L1455.0,1142.4L1455.3,1143.9L1455.7,1145.3L1456.1,1146.8L1456.5,1148.2L1456.8,1149.7L1457.2,1151.1L1457.6,1152.6L1458.0,1154.0L1458.4,1155.5L1458.8,1156.9L1459.2,1158.3L1459.6,1159.8L1460.0,1161.2L1460.4,1162.7L1460.8,1164.1L1461.3,1165.6L1461.7,1167.0L1462.1,1168.4L1462.5,1169.9L1462.9,1171.3L1463.4,1172.7L1463.8,1174.2L1464.2,1175.6L1464.7,1177.0L1465.1,1178.5L1465.6,1179.9L1466.0,1181.3L1466.5,1182.8L1466.9,1184.2L1467.4,1185.6L1467.9,1187.0L1468.3,1188.5L1468.8,1189.9L1469.3,1191.3L1469.7,1192.7L1470.2,1194.2L1470.7,1195.6L1471.2,1197.0L1471.7,1198.4L1472.2,1199.8L1472.7,1201.3L1473.2,1202.7L1473.7,1204.1L1474.2,1205.5L1474.7,1206.9L1475.2,1208.3L1475.8,1209.7L1476.3,1211.1L1476.9,1212.5L1477.4,1213.9L1478.0,1215.3L1478.5,1216.7L1479.1,1218.1L1479.7,1219.4L1480.3,1220.8L1480.9,1222.2L1481.5,1223.6L1482.1,1224.9L1482.8,1226.3L1483.4,1227.6L1484.0,1229.0L1484.7,1230.3L1485.4,1231.7L1486.1,1233.0L1486.8,1234.3L1487.5,1235.6L1488.2,1236.9L1488.9,1238.2L1489.7,1239.5L1490.4,1240.8L1491.2,1242.1L1492.0,1243.4L1492.8,1244.7L1493.6,1245.9L1494.4,1247.2L1495.3,1248.4L1496.1,1249.7L1497.0,1250.9L1497.9,1252.1L1498.8,1253.3L1499.7,1254.5L1500.6,1255.7L1501.6,1256.9L1502.6,1258.0L1503.5,1259.2L1504.5,1260.3L1505.5,1261.4L1506.6,1262.5L1507.6,1263.6L1508.7,1264.6L1509.8,1265.7L1510.8,1266.7L1511.9,1267.7L1513.1,1268.7L1514.2,1269.7L1515.4,1270.6L1516.5,1271.5L1517.7,1272.4L1518.9,1273.3L1520.1,1274.2L1521.4,1275.0L1522.6,1275.9L1523.8,1276.7L1525.0,1277.6L1526.3,1278.5L1527.5,1279.3L1528.7,1280.2L1529.9,1281.0L1531.1,1281.9L1532.4,1282.8L1533.6,1283.7L1534.8,1284.6L1536.0,1285.5L1537.2,1286.3L1538.4,1287.2L1539.6,1288.1L1540.8,1289.1L1542.0,1290.0L1543.2,1290.9L1544.4,1291.8L1545.5,1292.7L1546.7,1293.6L1547.9,1294.5L1549.1,1295.5L1550.3,1296.4L1551.5,1297.3L1552.7,1298.2L1553.9,1299.1L1555.0,1300.1L1556.2,1301.0L1557.4,1301.9L1558.6,1302.8L1559.8,1303.7L1561.0,1304.7L1562.1,1305.6L1563.3,1306.5L1564.5,1307.4L1565.7,1308.3L1566.9,1309.2L1568.1,1310.2L1569.3,1311.1L1570.5,1312.0L1571.7,1312.9L1572.9,1313.8L1574.1,1314.7L1575.3,1315.5L1576.5,1316.4L1577.7,1317.3L1578.9,1318.2L1580.1,1319.0L1581.4,1319.9L1582.6,1320.8L1583.8,1321.6L1585.1,1322.5L1586.3,1323.3L1587.6,1324.1L1588.8,1324.9L1590.1,1325.8L1591.4,1326.6L1592.7,1327.4L1593.9,1328.1L1595.2,1328.9L1596.5,1329.7L1597.8,1330.4L1599.1,1331.2L1600.4,1331.9L1601.8,1332.6L1603.1,1333.4L1604.4,1334.1L1605.7,1334.7L1607.1,1335.4L1608.4,1336.1L1609.8,1336.7L1611.1,1337.4L1612.5,1338.0L1613.9,1338.6L1615.2,1339.2L1616.6,1339.8L1618.0,1340.3L1619.4,1340.9L1620.8,1341.4L1622.2,1341.9L1623.6,1342.4L1625.0,1342.9L1626.4,1343.4L1627.9,1343.9L1629.3,1344.4L1630.7,1344.8L1632.1,1345.3L1633.6,1345.8L1635.0,1346.2L1636.4,1346.7L1637.8,1347.1L1639.3,1347.6L1640.7,1348.0L1642.1,1348.5L1643.6,1348.9L1645.0,1349.4L1646.4,1349.8L1647.9,1350.3L1649.3,1350.7L1650.7,1351.2L1652.2,1351.6L1653.6,1352.1L1655.0,1352.5L1656.5,1353.0L1657.9,1353.4L1659.3,1353.9L1660.8,1354.3L1662.2,1354.8L1663.6,1355.2L1665.0,1355.7L1666.5,1356.1L1667.9,1356.6L1669.4,1357.0L1670.8,1357.5L1672.2,1357.9L1673.7,1358.4L1675.1,1358.8L1676.5,1359.2L1678.0,1359.7L1679.4,1360.1L1680.8,1360.5L1682.3,1361.0L1683.7,1361.4L1685.1,1361.9L1686.6,1362.3L1688.0,1362.7L1689.5,1363.1L1690.9,1363.6L1692.3,1364.0L1693.8,1364.4L1695.2,1364.8L1696.7,1365.3L1698.1,1365.7L1699.5,1366.1L1701.0,1366.5L1702.4,1366.9L1703.9,1367.3L1705.3,1367.7L1706.8,1368.1L1708.2,1368.5L1709.7,1368.9L1711.1,1369.3L1712.6,1369.7L1714.0,1370.1L1715.4,1370.5L1716.9,1370.9L1718.3,1371.3L1719.8,1371.7L1721.2,1372.1L1722.7,1372.5L1724.1,1372.8L1725.6,1373.2L1727.1,1373.6L1728.5,1373.9L1730.0,1374.3L1731.4,1374.7L1732.9,1375.0L1734.3,1375.4L1735.8,1375.7L1737.2,1376.1L1738.7,1376.4L1740.2,1376.8L1741.6,1377.1L1743.1,1377.5L1744.5,1377.8L1746.0,1378.1L1747.5,1378.5L1748.9,1378.8L1750.4,1379.1L1751.9,1379.4L1753.3,1379.7L1754.8,1380.1L1756.3,1380.4L1757.7,1380.7L1759.2,1381.0L1760.7,1381.3L1762.1,1381.6L1763.6,1381.9L1765.1,1382.2L1766.6,1382.5L1768.0,1382.8L1769.5,1383.0L1771.0,1383.3L1772.4,1383.6L1773.9,1383.9L1775.4,1384.2L1776.9,1384.4L1778.3,1384.7L1779.8,1385.0L1781.3,1385.2L1782.8,1385.5L1784.3,1385.7L1785.7,1386.0L1787.2,1386.3L1788.7,1386.5L1790.2,1386.7L1791.6,1387.0L1793.1,1387.2L1794.6,1387.5L1796.1,1387.7L1797.6,1387.9L1799.1,1388.2L1800.5,1388.4L1802.0,1388.6L1803.5,1388.8L1805.0,1389.1L1806.5,1389.3L1808.0,1389.5L1809.4,1389.7L1810.9,1389.9L1812.4,1390.1L1813.9,1390.3L1815.4,1390.5L1816.9,1390.7L1818.4,1390.9L1819.9,1391.1L1821.3,1391.3L1822.8,1391.5L1824.3,1391.7L1825.8,1391.9L1827.3,1392.1L1828.8,1392.2L1830.3,1392.4L1831.8,1392.6L1833.3,1392.8L1834.7,1392.9L1836.2,1393.1L1837.7,1393.3L1839.2,1393.4L1840.7,1393.6L1842.2,1393.7L1843.7,1393.9L1845.2,1394.1L1846.7,1394.2L1848.2,1394.4L1849.7,1394.5L1851.2,1394.7L1852.7,1394.8L1854.2,1394.9L1855.6,1395.1L1857.1,1395.2L1858.6,1395.3L1860.1,1395.5L1861.6,1395.6L1863.1,1395.7L1864.6,1395.9L1866.1,1396.0L1867.6,1396.1L1869.1,1396.2L1870.6,1396.3L1872.1,1396.5L1873.6,1396.6L1875.1,1396.7L1876.6,1396.8L1878.1,1396.9L1879.6,1397.0L1881.1,1397.1L1882.6,1397.2L1884.1,1397.3L1885.6,1397.4L1887.1,1397.5L1888.6,1397.6L1890.1,1397.7L1891.6,1397.8L1893.1,1397.9L1894.5,1398.0L1896.0,1398.1L1897.5,1398.2L1899.0,1398.3L1900.5,1398.4L1902.0,1398.5L1903.5,1398.5L1905.0,1398.6L1906.5,1398.7L1908.0,1398.8L1909.5,1398.9L1911.0,1398.9L1912.5,1399.0L1914.0,1399.1L1915.5,1399.2L1917.0,1399.2L1918.5,1399.3L1920.0,1399.4L1921.5,1399.4L1923.0,1399.5L1924.5,1399.6L1926.0,1399.6L1927.5,1399.7L1929.0,1399.8L1930.5,1399.8L1932.0,1399.9L1933.5,1400.0L1935.0,1400.0L1936.5,1400.1L1938.0,1400.1L1939.5,1400.2L1941.0,1400.3L1942.5,1400.3L1944.0,1400.4L1945.5,1400.4L1947.0,1400.5L1948.5,1400.5L1950.0,1400.6L1951.5,1400.6L1953.0,1400.7L1954.5,1400.7L1956.0,1400.8L1957.5,1400.8L1959.0,1400.9L1960.5,1400.9L1962.0,1401.0L1963.5,1401.0L1965.0,1401.1" fill="none" stroke="#000" stroke-width="7.80" stroke-linejoin="round" stroke-linecap="round"/>
<path d="M421.0,1404.7L422.5,1404.7L424.0,1404.7L425.5,1404.8L427.0,1404.8L428.5,1404.8L430.0,1404.9L431.5,1404.9L433.0,1404.9L434.5,1405.0L436.0,1405.0L437.5,1405.0L439.0,1405.1L440.5,1405.1L442.0,1405.1L443.5,1405.1L445.0,1405.2L446.5,1405.2L448.0,1405.2L449.5,1405.3L451.0,1405.3L452.5,1405.3L454.0,1405.3L455.5,1405.4L457.0,1405.4L458.5,1405.4L460.0,1405.4L461.5,1405.5L463.0,1405.5L464.5,1405.5L466.0,1405.5L467.5,1405.5L469.0,1405.6L470.5,1405.6L472.0,1405.6L473.5,1405.6L475.0,1405.6L476.5,1405.7L478.0,1405.7L479.5,1405.7L481.0,1405.7L482.5,1405.7L484.0,1405.7L485.5,1405.8L487.0,1405.8L488.5,1405.8L490.0,1405.8L491.5,1405.8L493.0,1405.8L494.5,1405.8L496.0,1405.9L497.5,1405.9L499.0,1405.9L500.5,1405.9L502.0,1405.9L503.5,1405.9L505.0,1405.9L506.5,1405.9L508.0,1405.9L509.5,1406.0L511.0,1406.0L512.5,1406.0L514.0,1406.0L515.5,1406.0L517.0,1406.0L518.5,1406.0L520.0,1406.0L521.5,1406.0L523.0,1406.0L524.5,1406.0L526.0,1406.0L527.5,1406.1L529.0,1406.1L530.5,1406.1L532.0,1406.1L533.5,1406.1L535.0,1406.1L536.5,1406.1L538.0,1406.1L539.5,1406.1L541.0,1406.1L542.5,1406.1L544.0,1406.1L545.5,1406.1L547.0,1406.1L548.5,1406.1L550.0,1406.1L551.5,1406.1L553.0,1406.1L554.5,1406.1L556.0,1406.1L557.5,1406.1L559.0,1406.1L560.5,1406.1L562.0,1406.1L563.5,1406.1L565.0,1406.1L566.5,1406.1L568.0,1406.1L569.5,1406.1L571.0,1406.1L572.5,1406.1L574.0,1406.1L575.5,1406.1L577.0,1406.1L578.5,1406.1L580.0,1406.1L581.5,1406.1L583.0,1406.1L584.5,1406.1L586.0,1406.1L587.5,1406.1L589.0,1406.1L590.5,1406.1L592.0,1406.1L593.5,1406.1L595.0,1406.1L596.5,1406.1L598.0,1406.1L599.5,1406.1L601.0,1406.1L602.5,1406.1L604.0,1406.1L605.5,1406.1L607.0,1406.1L608.5,1406.1L610.0,1406.1L611.5,1406.1L613.0,1406.1L614.5,1406.1L616.0,1406.1L617.5,1406.1L619.0,1406.1L620.5,1406.0L622.0,1406.0L623.5,1406.0L625.0,1406.0L626.5,1406.0L628.0,1406.0L629.5,1406.0L631.0,1406.0L632.5,1406.0L634.0,1406.0L635.5,1406.0L637.0,1406.0L638.5,1406.0L640.0,1406.0L641.5,1406.0L643.0,1406.0L644.5,1406.0L646.0,1406.0L647.5,1406.0L649.0,1406.0L650.5,1406.0L652.0,1406.0L653.5,1406.0L655.0,1406.0L656.5,1406.0L658.0,1406.0L659.5,1405.9L661.0,1405.9L662.5,1405.9L664.0,1405.9L665.5,1405.9L667.0,1405.9L668.5,1405.9L670.0,1405.9L671.5,1405.9L673.0,1405.9L674.5,1405.9L676.0,1405.9L677.5,1405.9L679.0,1405.9L680.5,1405.9L682.0,1405.9L683.5,1405.9L685.0,1405.9L686.5,1405.9L688.0,1405.9L689.5,1405.9L691.0,1405.9L692.5,1405.9L694.0,1405.9L695.5,1405.9L697.0,1405.9L698.5,1405.9L700.0,1405.9L701.5,1405.9L703.0,1405.9L704.5,1405.9L706.0,1405.9L707.5,1405.9L709.0,1405.9L710.5,1405.9L712.0,1405.9L713.5,1405.9L715.0,1405.9L716.5,1405.9L718.0,1405.9L719.5,1405.9L721.0,1405.9L722.5,1405.9L724.0,1405.9L725.5,1405.9L727.0,1405.9L728.5,1405.9L730.0,1405.9L731.5,1405.9L733.0,1405.9L734.5,1405.9L736.0,1405.9L737.5,1405.9L739.0,1405.9L740.5,1405.9L742.0,1405.9L743.5,1405.9L745.0,1406.0L746.5,1406.0L748.0,1406.0L749.5,1406.0L751.0,1406.0L752.5,1406.0L754.0,1406.0L755.5,1406.0L757.0,1406.0L758.5,1406.0L760.0,1406.0L761.5,1406.0L763.0,1406.0L764.5,1406.0L766.0,1406.0L767.5,1406.0L769.0,1406.0L770.5,1406.0L772.0,1406.0L773.5,1406.0L775.0,1406.0L776.5,1406.0L778.0,1406.0L779.5,1406.1L781.0,1406.1L782.5,1406.1L784.0,1406.1L785.5,1406.1L787.0,1406.1L788.5,1406.1L790.0,1406.1L791.5,1406.1L793.0,1406.1L794.5,1406.1L796.0,1406.1L797.5,1406.1L799.0,1406.1L800.5,1406.1L802.0,1406.1L803.5,1406.1L805.0,1406.1L806.5,1406.1L808.0,1406.1L809.5,1406.1L811.0,1406.1L812.5,1406.1L814.0,1406.1L815.5,1406.1L817.0,1406.1L818.5,1406.1L820.0,1406.1L821.5,1406.1L823.0,1406.1L824.5,1406.1L826.0,1406.1L827.5,1406.1L829.0,1406.1L830.5,1406.1L832.0,1406.1L833.5,1406.1L835.0,1406.1L836.5,1406.1L838.0,1406.1L839.5,1406.1L841.0,1406.1L842.5,1406.1L844.0,1406.1L845.5,1406.1L847.0,1406.1L848.5,1406.1L850.0,1406.1L851.5,1406.1L853.0,1406.1L854.5,1406.1L856.0,1406.1L857.5,1406.1L859.0,1406.1L860.5,1406.1L862.0,1406.1L863.5,1406.1L865.0,1406.1L866.5,1406.0L868.0,1406.0L869.5,1406.0L871.0,1406.0L872.5,1406.0L874.0,1406.0L875.5,1406.0L877.0,1406.0L878.5,1406.0L880.0,1406.0L881.5,1406.0L883.0,1406.0L884.5,1405.9L886.0,1405.9L887.5,1405.9L889.0,1405.9L890.5,1405.9L892.0,1405.9L893.5,1405.9L895.0,1405.9L896.5,1405.9L898.0,1405.9L899.5,1405.9L901.0,1405.9L902.5,1405.8L904.0,1405.8L905.5,1405.8L907.0,1405.8L908.5,1405.8L910.0,1405.8L911.5,1405.8L913.0,1405.8L914.5,1405.8L916.0,1405.8L917.5,1405.8L919.0,1405.8L920.5,1405.8L922.0,1405.8L923.5,1405.8L925.0,1405.8L926.5,1405.8L928.0,1405.8L929.5,1405.8L931.0,1405.8L932.5,1405.8L934.0,1405.8L935.5,1405.8L937.0,1405.8L938.5,1405.8L940.0,1405.8L941.5,1405.8L943.0,1405.8L944.5,1405.8L946.0,1405.8L947.5,1405.8L949.0,1405.8L950.5,1405.8L952.0,1405.8L953.5,1405.8L955.0,1405.9L956.5,1405.9L958.0,1405.9L959.6,1405.9L961.1,1405.9L962.6,1405.9L964.1,1405.9L965.6,1406.0L967.1,1406.0L968.6,1406.0L970.1,1406.0L971.6,1406.0L973.1,1406.1L974.6,1406.1L976.1,1406.1L977.6,1406.1L979.1,1406.2L980.6,1406.2L982.1,1406.2L983.6,1406.3L985.1,1406.3L986.6,1406.3L988.1,1406.4L989.6,1406.4L991.1,1406.4L992.6,1406.4L994.1,1406.5L995.6,1406.5L997.1,1406.5L998.6,1406.5L1000.1,1406.5L1001.6,1406.5L1003.1,1406.5L1004.6,1406.5L1006.1,1406.4L1007.6,1406.4L1009.1,1406.4L1010.6,1406.3L1012.1,1406.3L1013.6,1406.2L1015.1,1406.1L1016.6,1406.0L1018.1,1405.9L1019.6,1405.8L1021.1,1405.7L1022.6,1405.6L1024.1,1405.4L1025.6,1405.3L1027.1,1405.1L1028.5,1404.9L1030.0,1404.7L1031.5,1404.4L1033.0,1404.2L1034.5,1403.9L1035.9,1403.7L1037.4,1403.3L1038.9,1403.0L1040.3,1402.7L1041.8,1402.3L1043.2,1401.9L1044.6,1401.4L1046.0,1401.0L1047.4,1400.5L1048.8,1400.0L1050.2,1399.5L1051.5,1398.9L1052.9,1398.3L1054.2,1397.6L1055.5,1397.0L1056.8,1396.3L1058.1,1395.5L1059.3,1394.7L1060.6,1393.9L1061.8,1393.1L1063.0,1392.2L1064.2,1391.3L1065.4,1390.4L1066.5,1389.4L1067.7,1388.5L1068.8,1387.5L1069.9,1386.4L1071.0,1385.4L1072.1,1384.3L1073.2,1383.2L1074.3,1382.1L1075.3,1381.0L1076.4,1379.9L1077.4,1378.7L1078.4,1377.6L1079.5,1376.4L1080.5,1375.2L1081.5,1374.0L1082.4,1372.8L1083.4,1371.6L1084.4,1370.4L1085.3,1369.2L1086.3,1368.0L1087.2,1366.8L1088.2,1365.6L1089.1,1364.4L1090.0,1363.2L1091.0,1362.0L1091.9,1360.8L1092.7,1359.6L1093.6,1358.4L1094.5,1357.2L1095.3,1355.9L1096.1,1354.7L1096.9,1353.4L1097.6,1352.2L1098.4,1350.9L1099.1,1349.6L1099.7,1348.3L1100.4,1347.0L1101.0,1345.7L1101.6,1344.4L1102.1,1343.0L1102.7,1341.6L1103.2,1340.3L1103.7,1338.9L1104.1,1337.5L1104.6,1336.1L1105.0,1334.7L1105.4,1333.2L1105.7,1331.8L1106.1,1330.4L1106.5,1328.9L1106.8,1327.5L1107.1,1326.0L1107.4,1324.5L1107.7,1323.1L1108.0,1321.6L1108.2,1320.1L1108.5,1318.6L1108.7,1317.1L1108.9,1315.6L1109.2,1314.1L1109.4,1312.6L1109.6,1311.1L1109.8,1309.6L1110.0,1308.1L1110.2,1306.6L1110.4,1305.1L1110.6,1303.6L1110.8,1302.1L1111.0,1300.6L1111.2,1299.1L1111.4,1297.6L1111.6,1296.1L1111.8,1294.6L1112.0,1293.1L1112.2,1291.6L1112.4,1290.1L1112.5,1288.6L1112.7,1287.1L1112.9,1285.7L1113.1,1284.2L1113.2,1282.7L1113.4,1281.2L1113.6,1279.7L1113.8,1278.2L1113.9,1276.7L1114.1,1275.2L1114.3,1273.7L1114.4,1272.2L1114.6,1270.7L1114.7,1269.2L1114.9,1267.7L1115.0,1266.2L1115.2,1264.7L1115.4,1263.2L1115.5,1261.7L1115.7,1260.2L1115.8,1258.7L1116.0,1257.2L1116.1,1255.7L1116.2,1254.2L1116.4,1252.7L1116.5,1251.2L1116.7,1249.7L1116.8,1248.2L1117.0,1246.7L1117.1,1245.2L1117.2,1243.7L1117.4,1242.2L1117.5,1240.8L1117.6,1239.3L1117.8,1237.8L1117.9,1236.3L1118.0,1234.8L1118.1,1233.3L1118.3,1231.8L1118.4,1230.3L1118.5,1228.8L1118.6,1227.3L1118.8,1225.8L1118.9,1224.3L1119.0,1222.8L1119.1,1221.3L1119.2,1219.8L1119.4,1218.3L1119.5,1216.8L1119.6,1215.3L1119.7,1213.8L1119.8,1212.4L1119.9,1210.9L1120.0,1209.4L1120.2,1207.9L1120.3,1206.4L1120.4,1204.9L1120.5,1203.4L1120.6,1201.9L1120.7,1200.4L1120.8,1198.9L1120.9,1197.4L1121.0,1195.9L1121.1,1194.4L1121.2,1192.9L1121.3,1191.4L1121.4,1189.9L1121.5,1188.4L1121.6,1187.0L1121.7,1185.5L1121.8,1184.0L1121.9,1182.5L1122.0,1181.0L1122.1,1179.5L1122.2,1178.0L1122.3,1176.5L1122.4,1175.0L1122.5,1173.5L1122.6,1172.0L1122.7,1170.5L1122.8,1169.0L1122.9,1167.5L1123.0,1166.0L1123.1,1164.5L1123.2,1163.0L1123.3,1161.6L1123.4,1160.1L1123.5,1158.6L1123.6,1157.1L1123.7,1155.6L1123.8,1154.1L1123.9,1152.6L1124.0,1151.1L1124.0,1149.6L1124.1,1148.1L1124.2,1146.6L1124.3,1145.1L1124.4,1143.6L1124.5,1142.1L1124.6,1140.6L1124.7,1139.1L1124.8,1137.6L1124.9,1136.1L1125.0,1134.6L1125.1,1133.1L1125.2,1131.7L1125.3,1130.2L1125.4,1128.7L1125.5,1127.2L1125.5,1125.7L1125.6,1124.2L1125.7,1122.7L1125.8,1121.2L1125.9,1119.7L1126.0,1118.2L1126.1,1116.7L1126.2,1115.2L1126.3,1113.7L1126.4,1112.2L1126.5,1110.7L1126.6,1109.2L1126.7,1107.7L1126.8,1106.2L1126.9,1104.7L1127.0,1103.2L1127.1,1101.7L1127.2,1100.2L1127.3,1098.7L1127.4,1097.2L1127.4,1095.7L1127.5,1094.3L1127.6,1092.8L1127.7,1091.3L1127.8,1089.8L1127.9,1088.3L1128.0,1086.8L1128.1,1085.3L1128.2,1083.8L1128.3,1082.3L1128.4,1080.8L1128.5,1079.3L1128.6,1077.8L1128.7,1076.3L1128.8,1074.8L1128.9,1073.3L1129.0,1071.8L1129.1,1070.3L1129.2,1068.8L1129.3,1067.3L1129.4,1065.8L1129.5,1064.3L1129.6,1062.8L1129.7,1061.3L1129.7,1059.8L1129.8,1058.3L1129.9,1056.8L1130.0,1055.3L1130.1,1053.8L1130.2,1052.3L1130.3,1050.8L1130.4,1049.3L1130.5,1047.8L1130.6,1046.3L1130.7,1044.8L1130.8,1043.3L1130.9,1041.9L1131.0,1040.4L1131.1,1038.9L1131.2,1037.4L1131.3,1035.9L1131.4,1034.4L1131.5,1032.9L1131.6,1031.4L1131.7,1029.9L1131.8,1028.4L1131.9,1026.9L1132.0,1025.4L1132.1,1023.9L1132.2,1022.4L1132.3,1020.9L1132.4,1019.4L1132.5,1017.9L1132.6,1016.4L1132.7,1014.9L1132.8,1013.4L1132.9,1011.9L1133.0,1010.4L1133.1,1008.9L1133.2,1007.4L1133.3,1005.9L1133.4,1004.4L1133.5,1002.9L1133.6,1001.4L1133.7,999.9L1133.8,998.4L1133.9,996.9L1134.0,995.4L1134.1,993.9L1134.2,992.4L1134.3,990.9L1134.4,989.4L1134.5,987.9L1134.6,986.4L1134.7,984.9L1134.8,983.4L1134.9,981.9L1135.0,980.4L1135.1,978.9L1135.2,977.4L1135.3,975.9L1135.4,974.4L1135.5,973.0L1135.6,971.5L1135.7,970.0L1135.8,968.5L1135.9,967.0L1136.0,965.5L1136.1,964.0L1136.2,962.5L1136.3,961.0L1136.4,959.5L1136.5,958.0L1136.6,956.5L1136.7,955.0L1136.8,953.5L1136.9,952.0L1137.0,950.5L1137.1,949.0L1137.2,947.5L1137.3,946.0L1137.4,944.5L1137.5,943.0L1137.6,941.5L1137.7,940.0L1137.8,938.5L1137.9,937.0L1138.0,935.5L1138.1,934.0L1138.2,932.5L1138.3,931.0L1138.4,929.5L1138.5,928.0L1138.6,926.5L1138.7,925.0L1138.8,923.5L1138.9,922.0L1139.0,920.5L1139.1,919.0L1139.2,917.5L1139.3,916.0L1139.4,914.5L1139.5,913.0L1139.6,911.6L1139.7,910.1L1139.8,908.6L1139.9,907.1L1140.0,905.6L1140.1,904.1L1140.2,902.6L1140.3,901.1L1140.4,899.6L1140.5,898.1L1140.6,896.6L1140.7,895.1L1140.8,893.6L1140.9,892.1L1141.0,890.6L1141.1,889.1L1141.2,887.6L1141.3,886.1L1141.4,884.6L1141.5,883.1L1141.6,881.6L1141.7,880.1L1141.8,878.6L1142.0,877.1L1142.1,875.6L1142.2,874.1L1142.3,872.6L1142.4,871.1L1142.5,869.6L1142.6,868.1L1142.7,866.6L1142.8,865.1L1142.9,863.6L1143.0,862.1L1143.1,860.7L1143.2,859.2L1143.3,857.7L1143.4,856.2L1143.5,854.7L1143.6,853.2L1143.7,851.7L1143.8,850.2L1143.9,848.7L1144.0,847.2L1144.1,845.7L1144.2,844.2L1144.3,842.7L1144.4,841.2L1144.5,839.7L1144.6,838.2L1144.7,836.7L1144.8,835.2L1144.9,833.7L1145.0,832.2L1145.1,830.7L1145.2,829.2L1145.3,827.7L1145.4,826.2L1145.5,824.7L1145.6,823.2L1145.7,821.7L1145.8,820.2L1145.9,818.7L1146.0,817.2L1146.1,815.7L1146.2,814.2L1146.3,812.8L1146.4,811.3L1146.5,809.8L1146.6,808.3L1146.7,806.8L1146.8,805.3L1146.9,803.8L1147.0,802.3L1147.1,800.8L1147.2,799.3L1147.3,797.8L1147.4,796.3L1147.5,794.8L1147.6,793.3L1147.7,791.8L1147.8,790.3L1147.9,788.8L1148.0,787.3L1148.1,785.8L1148.2,784.3L1148.3,782.8L1148.4,781.3L1148.5,779.8L1148.6,778.3L1148.7,776.8L1148.8,775.3L1148.8,773.8L1148.9,772.3L1149.0,770.8L1149.1,769.3L1149.2,767.9L1149.3,766.4L1149.4,764.9L1149.5,763.4L1149.6,761.9L1149.7,760.4L1149.8,758.9L1149.9,757.4L1150.0,755.9L1150.1,754.4L1150.2,752.9L1150.3,751.4L1150.4,749.9L1150.5,748.4L1150.6,746.9L1150.7,745.4L1150.8,743.9L1150.9,742.4L1151.0,740.9L1151.0,739.4L1151.1,737.9L1151.2,736.4L1151.3,734.9L1151.4,733.4L1151.5,731.9L1151.6,730.4L1151.7,728.9L1151.8,727.4L1151.9,725.9L1152.0,724.4L1152.1,723.0L1152.2,721.5L1152.3,720.0L1152.3,718.5L1152.4,717.0L1152.5,715.5L1152.6,714.0L1152.7,712.5L1152.8,711.0L1152.9,709.5L1153.0,708.0L1153.1,706.5L1153.2,705.0L1153.3,703.5L1153.3,702.0L1153.4,700.5L1153.5,699.0L1153.6,697.5L1153.7,696.0L1153.8,694.5L1153.9,693.0L1154.0,691.5L1154.1,690.0L1154.1,688.5L1154.2,687.0L1154.3,685.5L1154.4,684.0L1154.5,682.5L1154.6,681.0L1154.7,679.6L1154.8,678.1L1154.8,676.6L1154.9,675.1L1155.0,673.6L1155.1,672.1L1155.2,670.6L1155.3,669.1L1155.4,667.6L1155.4,666.1L1155.5,664.6L1155.6,663.1L1155.7,661.6L1155.8,660.1L1155.9,658.6L1156.0,657.1L1156.0,655.6L1156.1,654.1L1156.2,652.6L1156.3,651.1L1156.4,649.6L1156.5,648.1L1156.6,646.6L1156.6,645.1L1156.7,643.6L1156.8,642.1L1156.9,640.6L1157.0,639.1L1157.1,637.6L1157.1,636.1L1157.2,634.7L1157.3,633.2L1157.4,631.7L1157.5,630.2L1157.6,628.7L1157.7,627.2L1157.7,625.7L1157.8,624.2L1157.9,622.7L1158.0,621.2L1158.1,619.7L1158.2,618.2L1158.3,616.7L1158.3,615.2L1158.4,613.7L1158.5,612.2L1158.6,610.7L1158.7,609.2L1158.8,607.7L1158.9,606.2L1159.0,604.7L1159.0,603.2L1159.1,601.7L1159.2,600.2L1159.3,598.7L1159.4,597.2L1159.5,595.7L1159.6,594.2L1159.7,592.7L1159.7,591.2L1159.8,589.7L1159.9,588.2L1160.0,586.7L1160.1,585.2L1160.2,583.7L1160.3,582.3L1160.4,580.8L1160.5,579.3L1160.6,577.8L1160.6,576.3L1160.7,574.8L1160.8,573.3L1160.9,571.8L1161.0,570.3L1161.1,568.8L1161.2,567.3L1161.3,565.8L1161.4,564.3L1161.5,562.8L1161.6,561.3L1161.7,559.8L1161.8,558.3L1161.9,556.8L1162.0,555.3L1162.1,553.8L1162.1,552.3L1162.2,550.8L1162.3,549.3L1162.4,547.8L1162.5,546.3L1162.6,544.8L1162.7,543.3L1162.8,541.8L1162.9,540.3L1163.0,538.8L1163.1,537.3L1163.2,535.8L1163.3,534.3L1163.4,532.8L1163.5,531.3L1163.6,529.8L1163.8,528.3L1163.9,526.8L1164.0,525.3L1164.1,523.8L1164.2,522.3L1164.3,520.8L1164.4,519.3L1164.5,517.8L1164.6,516.3L1164.7,514.8L1164.8,513.3L1164.9,511.8L1165.0,510.3L1165.1,508.8L1165.3,507.3L1165.4,505.8L1165.5,504.4L1165.6,502.9L1165.7,501.4L1165.8,499.9L1165.9,498.4L1166.0,496.9L1166.2,495.4L1166.3,493.9L1166.4,492.4L1166.5,490.9L1166.6,489.4L1166.7,487.9L1166.9,486.4L1167.0,484.9L1167.1,483.4L1167.2,481.9L1167.3,480.4L1167.5,478.9L1167.6,477.4L1167.7,475.9L1167.8,474.4L1168.0,472.9L1168.1,471.4L1168.2,469.9L1168.4,468.4L1168.5,466.9L1168.6,465.4L1168.7,463.9L1168.9,462.4L1169.0,460.9L1169.1,459.4L1169.3,457.9L1169.4,456.4L1169.5,454.9L1169.7,453.4L1169.8,451.9L1169.9,450.4L1170.1,448.9L1170.2,447.5L1170.3,446.0L1170.5,444.5L1170.6,443.0L1170.7,441.5L1170.9,440.1L1171.0,438.6L1171.1,437.1L1171.3,435.6L1171.4,434.2L1171.5,432.7L1171.7,431.2L1171.8,429.8L1172.0,428.3L1172.1,426.9L1172.2,425.4L1172.4,424.0L1172.5,422.5L1172.6,421.1L1172.8,419.6L1172.9,418.2L1173.1,416.7L1173.2,415.3L1173.4,413.8L1173.6,412.3L1173.9,410.8L1174.2,409.2L1174.5,407.7L1174.9,406.0L1175.4,404.4L1175.9,402.6L1176.5,400.8L1177.1,399.1L1177.9,397.4L1178.6,395.9L1179.3,394.6L1180.1,393.6L1180.8,393.1L1181.5,393.0L1182.2,393.5L1182.8,394.4L1183.4,395.6L1183.9,397.2L1184.4,398.9L1184.8,400.7L1185.2,402.5L1185.6,404.3L1186.0,406.0L1186.3,407.6L1186.5,409.2L1186.8,410.7L1187.0,412.2L1187.2,413.7L1187.4,415.2L1187.6,416.6L1187.8,418.0L1187.9,419.4L1188.1,420.8L1188.3,422.3L1188.4,423.7L1188.6,425.1L1188.8,426.6L1189.0,428.0L1189.1,429.5L1189.3,430.9L1189.5,432.4L1189.6,433.9L1189.8,435.3L1190.0,436.8L1190.1,438.3L1190.3,439.8L1190.5,441.3L1190.6,442.8L1190.8,444.3L1191.0,445.7L1191.1,447.2L1191.3,448.7L1191.4,450.2L1191.6,451.7L1191.8,453.2L1191.9,454.7L1192.1,456.2L1192.2,457.7L1192.4,459.2L1192.5,460.7L1192.7,462.2L1192.8,463.7L1193.0,465.2L1193.1,466.7L1193.3,468.2L1193.4,469.7L1193.6,471.2L1193.7,472.7L1193.9,474.2L1194.0,475.7L1194.1,477.2L1194.3,478.7L1194.4,480.2L1194.6,481.7L1194.7,483.2L1194.8,484.7L1195.0,486.2L1195.1,487.7L1195.2,489.2L1195.4,490.7L1195.5,492.2L1195.6,493.7L1195.8,495.2L1195.9,496.7L1196.0,498.2L1196.2,499.7L1196.3,501.2L1196.4,502.7L1196.6,504.2L1196.7,505.7L1196.8,507.2L1196.9,508.7L1197.1,510.2L1197.2,511.7L1197.3,513.1L1197.4,514.6L1197.6,516.1L1197.7,517.6L1197.8,519.1L1197.9,520.6L1198.1,522.1L1198.2,523.6L1198.3,525.1L1198.4,526.6L1198.6,528.1L1198.7,529.6L1198.8,531.1L1198.9,532.6L1199.1,534.1L1199.2,535.6L1199.3,537.1L1199.4,538.6L1199.6,540.1L1199.7,541.6L1199.8,543.1L1199.9,544.5L1200.1,546.0L1200.2,547.5L1200.3,549.0L1200.4,550.5L1200.5,552.0L1200.7,553.5L1200.8,555.0L1200.9,556.5L1201.0,558.0L1201.2,559.5L1201.3,561.0L1201.4,562.5L1201.6,564.0L1201.7,565.5L1201.8,567.0L1201.9,568.4L1202.1,569.9L1202.2,571.4L1202.3,572.9L1202.5,574.4L1202.6,575.9L1202.7,577.4L1202.8,578.9L1203.0,580.4L1203.1,581.9L1203.2,583.4L1203.4,584.9L1203.5,586.4L1203.7,587.9L1203.8,589.3L1203.9,590.8L1204.1,592.3L1204.2,593.8L1204.3,595.3L1204.5,596.8L1204.6,598.3L1204.8,599.8L1204.9,601.3L1205.1,602.8L1205.2,604.3L1205.3,605.7L1205.5,607.2L1205.6,608.7L1205.8,610.2L1205.9,611.7L1206.1,613.2L1206.2,614.7L1206.4,616.2L1206.6,617.7L1206.7,619.2L1206.9,620.7L1207.0,622.1L1207.2,623.6L1207.3,625.1L1207.5,626.6L1207.7,628.1L1207.8,629.6L1208.0,631.1L1208.2,632.6L1208.3,634.1L1208.5,635.5L1208.7,637.0L1208.9,638.5L1209.0,640.0L1209.2,641.5L1209.4,643.0L1209.6,644.5L1209.7,646.0L1209.9,647.5L1210.1,648.9L1210.3,650.4L1210.5,651.9L1210.7,653.4L1210.9,654.9L1211.0,656.4L1211.2,657.9L1211.4,659.4L1211.6,660.8L1211.8,662.3L1212.0,663.8L1212.2,665.3L1212.4,666.8L1212.6,668.3L1212.8,669.8L1213.0,671.2L1213.3,672.7L1213.5,674.2L1213.7,675.7L1213.9,677.2L1214.1,678.7L1214.3,680.2L1214.5,681.7L1214.7,683.1L1214.9,684.6L1215.2,686.1L1215.4,687.6L1215.6,689.1L1215.8,690.6L1216.0,692.1L1216.2,693.5L1216.5,695.0L1216.7,696.5L1216.9,698.0L1217.1,699.5L1217.3,701.0L1217.6,702.5L1217.8,703.9L1218.0,705.4L1218.2,706.9L1218.4,708.4L1218.7,709.9L1218.9,711.4L1219.1,712.9L1219.3,714.3L1219.5,715.8L1219.8,717.3L1220.0,718.8L1220.2,720.3L1220.4,721.8L1220.6,723.3L1220.9,724.7L1221.1,726.2L1221.3,727.7L1221.5,729.2L1221.7,730.7L1222.0,732.2L1222.2,733.7L1222.4,735.1L1222.6,736.6L1222.8,738.1L1223.0,739.6L1223.3,741.1L1223.5,742.6L1223.7,744.1L1223.9,745.5L1224.1,747.0L1224.3,748.5L1224.5,750.0L1224.7,751.5L1225.0,753.0L1225.2,754.5L1225.4,755.9L1225.6,757.4L1225.8,758.9L1226.0,760.4L1226.2,761.9L1226.4,763.4L1226.6,764.9L1226.8,766.4L1227.0,767.8L1227.2,769.3L1227.4,770.8L1227.6,772.3L1227.8,773.8L1228.0,775.3L1228.2,776.8L1228.4,778.2L1228.6,779.7L1228.8,781.2L1228.9,782.7L1229.1,784.2L1229.3,785.7L1229.5,787.2L1229.7,788.7L1229.9,790.1L1230.1,791.6L1230.3,793.1L1230.5,794.6L1230.6,796.1L1230.8,797.6L1231.0,799.1L1231.2,800.6L1231.4,802.0L1231.6,803.5L1231.7,805.0L1231.9,806.5L1232.1,808.0L1232.3,809.5L1232.5,811.0L1232.7,812.5L1232.8,814.0L1233.0,815.4L1233.2,816.9L1233.4,818.4L1233.5,819.9L1233.7,821.4L1233.9,822.9L1234.1,824.4L1234.2,825.9L1234.4,827.4L1234.6,828.8L1234.8,830.3L1234.9,831.8L1235.1,833.3L1235.3,834.8L1235.5,836.3L1235.6,837.8L1235.8,839.3L1236.0,840.8L1236.1,842.2L1236.3,843.7L1236.5,845.2L1236.6,846.7L1236.8,848.2L1237.0,849.7L1237.1,851.2L1237.3,852.7L1237.5,854.2L1237.6,855.7L1237.8,857.1L1238.0,858.6L1238.1,860.1L1238.3,861.6L1238.5,863.1L1238.6,864.6L1238.8,866.1L1239.0,867.6L1239.1,869.1L1239.3,870.6L1239.4,872.1L1239.6,873.5L1239.8,875.0L1239.9,876.5L1240.1,878.0L1240.3,879.5L1240.4,881.0L1240.6,882.5L1240.7,884.0L1240.9,885.5L1241.1,887.0L1241.2,888.5L1241.4,889.9L1241.5,891.4L1241.7,892.9L1241.9,894.4L1242.0,895.9L1242.2,897.4L1242.3,898.9L1242.5,900.4L1242.6,901.9L1242.8,903.4L1243.0,904.9L1243.1,906.4L1243.3,907.9L1243.4,909.3L1243.6,910.8L1243.8,912.3L1243.9,913.8L1244.1,915.3L1244.2,916.8L1244.4,918.3L1244.6,919.8L1244.7,921.3L1244.9,922.8L1245.0,924.3L1245.2,925.8L1245.3,927.3L1245.5,928.7L1245.7,930.2L1245.8,931.7L1246.0,933.2L1246.1,934.7L1246.3,936.2L1246.5,937.7L1246.6,939.2L1246.8,940.7L1247.0,942.2L1247.1,943.7L1247.3,945.2L1247.4,946.6L1247.6,948.1L1247.8,949.6L1247.9,951.1L1248.1,952.6L1248.3,954.1L1248.4,955.6L1248.6,957.1L1248.8,958.6L1248.9,960.1L1249.1,961.6L1249.3,963.1L1249.4,964.6L1249.6,966.0L1249.8,967.5L1249.9,969.0L1250.1,970.5L1250.3,972.0L1250.4,973.5L1250.6,975.0L1250.8,976.5L1251.0,978.0L1251.1,979.5L1251.3,981.0L1251.5,982.4L1251.7,983.9L1251.8,985.4L1252.0,986.9L1252.2,988.4L1252.4,989.9L1252.5,991.4L1252.7,992.9L1252.9,994.4L1253.1,995.9L1253.3,997.3L1253.4,998.8L1253.6,1000.3L1253.8,1001.8L1254.0,1003.3L1254.2,1004.8L1254.4,1006.3L1254.6,1007.8L1254.7,1009.3L1254.9,1010.7L1255.1,1012.2L1255.3,1013.7L1255.5,1015.2L1255.7,1016.7L1255.9,1018.2L1256.1,1019.7L1256.3,1021.2L1256.5,1022.6L1256.7,1024.1L1256.9,1025.6L1257.1,1027.1L1257.3,1028.6L1257.5,1030.1L1257.7,1031.6L1257.9,1033.0L1258.1,1034.5L1258.3,1036.0L1258.5,1037.5L1258.7,1039.0L1258.9,1040.5L1259.1,1042.0L1259.3,1043.4L1259.6,1044.9L1259.8,1046.4L1260.0,1047.9L1260.2,1049.4L1260.4,1050.9L1260.6,1052.3L1260.9,1053.8L1261.1,1055.3L1261.3,1056.8L1261.5,1058.3L1261.8,1059.8L1262.0,1061.2L1262.2,1062.7L1262.4,1064.2L1262.7,1065.7L1262.9,1067.2L1263.1,1068.7L1263.4,1070.1L1263.6,1071.6L1263.8,1073.1L1264.1,1074.6L1264.3,1076.1L1264.6,1077.5L1264.8,1079.0L1265.0,1080.5L1265.3,1082.0L1265.5,1083.4L1265.8,1084.9L1266.0,1086.4L1266.3,1087.9L1266.6,1089.4L1266.8,1090.8L1267.1,1092.3L1267.3,1093.8L1267.6,1095.3L1267.8,1096.7L1268.1,1098.2L1268.4,1099.7L1268.6,1101.2L1268.9,1102.6L1269.2,1104.1L1269.5,1105.6L1269.7,1107.1L1270.0,1108.5L1270.3,1110.0L1270.6,1111.5L1270.8,1113.0L1271.1,1114.4L1271.4,1115.9L1271.7,1117.4L1272.0,1118.9L1272.3,1120.3L1272.6,1121.8L1272.9,1123.3L1273.2,1124.7L1273.5,1126.2L1273.8,1127.7L1274.1,1129.1L1274.4,1130.6L1274.7,1132.1L1275.0,1133.5L1275.3,1135.0L1275.6,1136.5L1275.9,1138.0L1276.2,1139.4L1276.5,1140.9L1276.9,1142.4L1277.2,1143.8L1277.5,1145.3L1277.8,1146.7L1278.2,1148.2L1278.5,1149.7L1278.8,1151.1L1279.2,1152.6L1279.5,1154.1L1279.8,1155.5L1280.2,1157.0L1280.5,1158.5L1280.9,1159.9L1281.2,1161.4L1281.6,1162.8L1281.9,1164.3L1282.3,1165.8L1282.6,1167.2L1283.0,1168.7L1283.4,1170.1L1283.7,1171.6L1284.1,1173.0L1284.5,1174.5L1284.9,1175.9L1285.3,1177.4L1285.7,1178.8L1286.2,1180.3L1286.6,1181.7L1287.0,1183.1L1287.5,1184.5L1288.0,1186.0L1288.5,1187.4L1289.0,1188.8L1289.5,1190.2L1290.0,1191.6L1290.5,1193.0L1291.1,1194.4L1291.7,1195.8L1292.3,1197.2L1292.9,1198.5L1293.5,1199.9L1294.2,1201.3L1294.9,1202.6L1295.6,1204.0L1296.3,1205.3L1297.0,1206.6L1297.8,1208.0L1298.6,1209.3L1299.4,1210.6L1300.2,1211.9L1301.1,1213.2L1302.0,1214.4L1302.9,1215.6L1303.9,1216.6L1304.9,1217.4L1306.0,1217.8L1307.2,1217.8L1308.4,1217.3L1309.7,1216.5L1310.9,1215.5L1312.2,1214.3L1313.4,1213.0L1314.5,1211.6L1315.6,1210.3L1316.5,1209.0L1317.4,1207.7L1318.3,1206.4L1319.0,1205.1L1319.8,1203.8L1320.4,1202.5L1321.1,1201.2L1321.7,1199.9L1322.2,1198.6L1322.7,1197.2L1323.3,1195.9L1323.8,1194.5L1324.2,1193.2L1324.7,1191.8L1325.2,1190.4L1325.7,1189.0L1326.2,1187.5L1326.6,1186.1L1327.1,1184.7L1327.6,1183.2L1328.0,1181.8L1328.5,1180.3L1328.9,1178.8L1329.4,1177.4L1329.8,1175.9L1330.2,1174.5L1330.6,1173.0L1331.0,1171.6L1331.4,1170.1L1331.8,1168.6L1332.2,1167.2L1332.6,1165.7L1333.0,1164.3L1333.4,1162.8L1333.8,1161.4L1334.2,1160.0L1334.5,1158.5L1334.9,1157.1L1335.3,1155.6L1335.7,1154.2L1336.1,1152.7L1336.5,1151.3L1336.9,1149.8L1337.3,1148.4L1337.7,1147.0L1338.1,1145.5L1338.5,1144.1L1338.9,1142.6L1339.3,1141.2L1339.7,1139.8L1340.1,1138.3L1340.5,1136.9L1340.9,1135.4L1341.3,1134.0L1341.7,1132.6L1342.2,1131.1L1342.6,1129.7L1343.0,1128.2L1343.4,1126.8L1343.8,1125.4L1344.2,1123.9L1344.7,1122.5L1345.1,1121.0L1345.5,1119.6L1345.9,1118.2L1346.3,1116.7L1346.7,1115.3L1347.2,1113.9L1347.6,1112.4L1348.0,1111.0L1348.4,1109.5L1348.8,1108.1L1349.3,1106.7L1349.7,1105.2L1350.1,1103.8L1350.5,1102.3L1350.9,1100.9L1351.3,1099.5L1351.8,1098.0L1352.2,1096.6L1352.6,1095.1L1353.0,1093.7L1353.4,1092.2L1353.8,1090.8L1354.2,1089.3L1354.6,1087.9L1355.0,1086.4L1355.4,1085.0L1355.8,1083.6L1356.2,1082.1L1356.6,1080.7L1357.0,1079.2L1357.4,1077.7L1357.8,1076.3L1358.2,1074.8L1358.6,1073.4L1358.9,1071.9L1359.3,1070.5L1359.7,1069.0L1360.1,1067.6L1360.5,1066.1L1360.8,1064.7L1361.2,1063.2L1361.6,1061.7L1362.0,1060.3L1362.3,1058.8L1362.7,1057.4L1363.1,1055.9L1363.5,1054.5L1363.8,1053.0L1364.2,1051.6L1364.5,1050.1L1364.9,1048.6L1365.3,1047.2L1365.6,1045.7L1366.0,1044.3L1366.4,1042.8L1366.7,1041.4L1367.1,1039.9L1367.4,1038.4L1367.8,1037.0L1368.1,1035.5L1368.5,1034.1L1368.9,1032.6L1369.2,1031.2L1369.6,1029.7L1369.9,1028.3L1370.3,1026.8L1370.6,1025.4L1371.0,1023.9L1371.3,1022.5L1371.7,1021.0L1372.0,1019.6L1372.4,1018.1L1372.7,1016.7L1373.1,1015.2L1373.4,1013.8L1373.8,1012.3L1374.1,1010.9L1374.5,1009.4L1374.8,1008.0L1375.1,1006.6L1375.5,1005.1L1375.8,1003.7L1376.2,1002.2L1376.5,1000.7L1376.9,999.3L1377.2,997.8L1377.6,996.4L1377.9,994.9L1378.3,993.5L1378.6,992.0L1379.0,990.5L1379.3,989.1L1379.7,987.6L1380.0,986.1L1380.4,984.6L1380.7,983.1L1381.1,981.7L1381.4,980.2L1381.8,978.7L1382.1,977.2L1382.5,975.7L1382.9,974.2L1383.2,972.7L1383.6,971.2L1384.0,969.7L1384.5,968.3L1385.0,966.9L1385.6,965.5L1386.3,964.2L1387.0,962.9L1387.8,961.7L1388.8,960.5L1389.8,959.5L1391.0,958.5L1392.2,957.8L1393.5,957.5L1394.7,957.8L1395.9,958.5L1397.0,959.5L1398.0,960.6L1399.0,961.7L1399.9,962.9L1400.7,964.2L1401.4,965.5L1402.0,966.8L1402.7,968.2L1403.2,969.5L1403.8,970.9L1404.3,972.4L1404.8,973.8L1405.2,975.2L1405.7,976.7L1406.2,978.1L1406.6,979.5L1407.1,981.0L1407.5,982.4L1408.0,983.9L1408.4,985.3L1408.9,986.8L1409.3,988.2L1409.7,989.7L1410.2,991.1L1410.6,992.5L1411.0,994.0L1411.4,995.4L1411.8,996.9L1412.3,998.3L1412.7,999.8L1413.1,1001.2L1413.5,1002.7L1413.9,1004.1L1414.3,1005.6L1414.7,1007.0L1415.1,1008.5L1415.5,1009.9L1415.9,1011.4L1416.3,1012.8L1416.7,1014.3L1417.1,1015.7L1417.5,1017.2L1417.9,1018.6L1418.2,1020.1L1418.6,1021.5L1419.0,1023.0L1419.4,1024.4L1419.8,1025.9L1420.1,1027.4L1420.5,1028.8L1420.9,1030.3L1421.3,1031.7L1421.6,1033.2L1422.0,1034.6L1422.4,1036.1L1422.7,1037.5L1423.1,1039.0L1423.5,1040.4L1423.8,1041.9L1424.2,1043.4L1424.5,1044.8L1424.9,1046.3L1425.3,1047.7L1425.6,1049.2L1426.0,1050.6L1426.3,1052.1L1426.7,1053.5L1427.1,1055.0L1427.4,1056.5L1427.8,1057.9L1428.1,1059.4L1428.5,1060.8L1428.9,1062.3L1429.2,1063.7L1429.6,1065.2L1429.9,1066.6L1430.3,1068.1L1430.6,1069.5L1431.0,1071.0L1431.4,1072.5L1431.7,1073.9L1432.1,1075.4L1432.4,1076.8L1432.8,1078.3L1433.2,1079.7L1433.5,1081.2L1433.9,1082.6L1434.2,1084.1L1434.6,1085.5L1435.0,1087.0L1435.3,1088.4L1435.7,1089.9L1436.1,1091.4L1436.4,1092.8L1436.8,1094.3L1437.2,1095.7L1437.6,1097.2L1437.9,1098.6L1438.3,1100.1L1438.7,1101.5L1439.1,1103.0L1439.4,1104.4L1439.8,1105.9L1440.2,1107.3L1440.6,1108.8L1441.0,1110.2L1441.4,1111.6L1441.8,1113.1L1442.2,1114.5L1442.5,1116.0L1442.9,1117.4L1443.3,1118.9L1443.7,1120.3L1444.1,1121.8L1444.5,1123.2L1444.9,1124.7L1445.4,1126.1L1445.8,1127.5L1446.2,1129.0L1446.6,1130.4L1447.0,1131.9L1447.4,1133.3L1447.8,1134.7L1448.2,1136.2L1448.7,1137.6L1449.1,1139.1L1449.5,1140.5L1449.9,1141.9L1450.4,1143.4L1450.8,1144.8L1451.2,1146.2L1451.7,1147.7L1452.1,1149.1L1452.6,1150.5L1453.0,1152.0L1453.4,1153.4L1453.9,1154.8L1454.3,1156.3L1454.8,1157.7L1455.2,1159.1L1455.7,1160.6L1456.2,1162.0L1456.6,1163.4L1457.1,1164.8L1457.5,1166.3L1458.0,1167.7L1458.5,1169.1L1458.9,1170.5L1459.4,1172.0L1459.9,1173.4L1460.4,1174.8L1460.9,1176.2L1461.3,1177.7L1461.8,1179.1L1462.3,1180.5L1462.8,1181.9L1463.3,1183.3L1463.8,1184.7L1464.3,1186.2L1464.8,1187.6L1465.3,1189.0L1465.8,1190.4L1466.3,1191.8L1466.8,1193.2L1467.3,1194.6L1467.9,1196.0L1468.4,1197.4L1468.9,1198.8L1469.4,1200.3L1469.9,1201.7L1470.5,1203.1L1471.0,1204.5L1471.5,1205.9L1472.1,1207.3L1472.6,1208.7L1473.2,1210.1L1473.7,1211.5L1474.3,1212.9L1474.8,1214.3L1475.4,1215.7L1475.9,1217.0L1476.5,1218.4L1477.0,1219.8L1477.6,1221.2L1478.2,1222.6L1478.8,1224.0L1479.3,1225.4L1479.9,1226.8L1480.5,1228.2L1481.1,1229.5L1481.7,1230.9L1482.3,1232.3L1482.8,1233.7L1483.4,1235.1L1484.0,1236.5L1484.6,1237.8L1485.3,1239.2L1485.9,1240.6L1486.5,1242.0L1487.1,1243.3L1487.7,1244.7L1488.3,1246.1L1489.0,1247.4L1489.6,1248.8L1490.2,1250.2L1490.9,1251.5L1491.5,1252.9L1492.1,1254.3L1492.8,1255.6L1493.4,1257.0L1494.1,1258.3L1494.8,1259.7L1495.4,1261.0L1496.1,1262.3L1496.8,1263.7L1497.5,1265.0L1498.2,1266.3L1498.9,1267.7L1499.6,1269.0L1500.3,1270.3L1501.1,1271.6L1501.8,1272.9L1502.6,1274.2L1503.3,1275.5L1504.1,1276.7L1504.9,1278.0L1505.6,1279.3L1506.4,1280.5L1507.2,1281.8L1508.1,1283.0L1508.9,1284.3L1509.7,1285.5L1510.6,1286.7L1511.4,1287.9L1512.3,1289.1L1513.2,1290.3L1514.1,1291.5L1515.0,1292.7L1515.9,1293.8L1516.8,1295.0L1517.8,1296.1L1518.7,1297.3L1519.7,1298.4L1520.7,1299.5L1521.7,1300.6L1522.7,1301.7L1523.7,1302.8L1524.8,1303.8L1525.9,1304.9L1526.9,1305.9L1528.0,1306.9L1529.1,1308.0L1530.2,1309.0L1531.4,1310.0L1532.5,1311.0L1533.7,1311.9L1534.8,1312.9L1536.0,1313.9L1537.1,1314.9L1538.3,1315.8L1539.5,1316.8L1540.7,1317.8L1541.9,1318.7L1543.0,1319.7L1544.2,1320.6L1545.4,1321.6L1546.6,1322.6L1547.8,1323.5L1549.0,1324.5L1550.2,1325.4L1551.3,1326.4L1552.5,1327.4L1553.7,1328.4L1554.9,1329.3L1556.0,1330.3L1557.2,1331.2L1558.4,1332.2L1559.6,1333.1L1560.8,1334.1L1562.0,1335.0L1563.2,1335.9L1564.4,1336.8L1565.6,1337.7L1566.8,1338.6L1568.0,1339.4L1569.3,1340.3L1570.5,1341.1L1571.7,1341.9L1573.0,1342.7L1574.3,1343.5L1575.5,1344.3L1576.8,1345.0L1578.1,1345.7L1579.4,1346.4L1580.7,1347.1L1582.1,1347.8L1583.4,1348.4L1584.7,1349.1L1586.1,1349.7L1587.4,1350.3L1588.8,1350.9L1590.1,1351.5L1591.5,1352.1L1592.9,1352.7L1594.2,1353.2L1595.6,1353.7L1597.0,1354.3L1598.4,1354.8L1599.8,1355.3L1601.2,1355.8L1602.6,1356.2L1604.1,1356.7L1605.5,1357.2L1606.9,1357.6L1608.3,1358.1L1609.8,1358.5L1611.2,1358.9L1612.7,1359.3L1614.1,1359.7L1615.6,1360.1L1617.0,1360.5L1618.5,1360.9L1619.9,1361.3L1621.4,1361.7L1622.8,1362.0L1624.3,1362.4L1625.8,1362.8L1627.2,1363.1L1628.7,1363.5L1630.2,1363.8L1631.6,1364.2L1633.1,1364.5L1634.6,1364.9L1636.1,1365.2L1637.5,1365.5L1639.0,1365.9L1640.5,1366.2L1641.9,1366.5L1643.4,1366.8L1644.9,1367.2L1646.4,1367.5L1647.8,1367.8L1649.3,1368.2L1650.8,1368.5L1652.2,1368.8L1653.7,1369.1L1655.2,1369.4L1656.6,1369.8L1658.1,1370.1L1659.6,1370.4L1661.1,1370.7L1662.5,1371.0L1664.0,1371.3L1665.5,1371.6L1666.9,1371.9L1668.4,1372.2L1669.9,1372.5L1671.4,1372.9L1672.8,1373.2L1674.3,1373.5L1675.8,1373.8L1677.2,1374.0L1678.7,1374.3L1680.2,1374.6L1681.6,1374.9L1683.1,1375.2L1684.6,1375.5L1686.1,1375.8L1687.5,1376.1L1689.0,1376.4L1690.5,1376.6L1691.9,1376.9L1693.4,1377.2L1694.9,1377.5L1696.4,1377.8L1697.8,1378.0L1699.3,1378.3L1700.8,1378.6L1702.3,1378.8L1703.7,1379.1L1705.2,1379.4L1706.7,1379.6L1708.2,1379.9L1709.6,1380.1L1711.1,1380.4L1712.6,1380.7L1714.1,1380.9L1715.5,1381.2L1717.0,1381.4L1718.5,1381.6L1720.0,1381.9L1721.4,1382.1L1722.9,1382.4L1724.4,1382.6L1725.9,1382.8L1727.4,1383.1L1728.8,1383.3L1730.3,1383.5L1731.8,1383.8L1733.3,1384.0L1734.8,1384.2L1736.2,1384.4L1737.7,1384.7L1739.2,1384.9L1740.7,1385.1L1742.2,1385.3L1743.7,1385.5L1745.1,1385.7L1746.6,1385.9L1748.1,1386.1L1749.6,1386.4L1751.1,1386.6L1752.6,1386.8L1754.0,1387.0L1755.5,1387.2L1757.0,1387.4L1758.5,1387.5L1760.0,1387.7L1761.5,1387.9L1763.0,1388.1L1764.4,1388.3L1765.9,1388.5L1767.4,1388.7L1768.9,1388.9L1770.4,1389.0L1771.9,1389.2L1773.4,1389.4L1774.9,1389.6L1776.4,1389.7L1777.8,1389.9L1779.3,1390.1L1780.8,1390.3L1782.3,1390.4L1783.8,1390.6L1785.3,1390.7L1786.8,1390.9L1788.3,1391.1L1789.8,1391.2L1791.3,1391.4L1792.8,1391.5L1794.2,1391.7L1795.7,1391.8L1797.2,1392.0L1798.7,1392.1L1800.2,1392.3L1801.7,1392.4L1803.2,1392.6L1804.7,1392.7L1806.2,1392.9L1807.7,1393.0L1809.2,1393.1L1810.7,1393.3L1812.2,1393.4L1813.7,1393.6L1815.2,1393.7L1816.7,1393.8L1818.2,1393.9L1819.6,1394.1L1821.1,1394.2L1822.6,1394.3L1824.1,1394.5L1825.6,1394.6L1827.1,1394.7L1828.6,1394.8L1830.1,1394.9L1831.6,1395.0L1833.1,1395.2L1834.6,1395.3L1836.1,1395.4L1837.6,1395.5L1839.1,1395.6L1840.6,1395.7L1842.1,1395.8L1843.6,1395.9L1845.1,1396.0L1846.6,1396.1L1848.1,1396.2L1849.6,1396.3L1851.1,1396.4L1852.6,1396.5L1854.1,1396.6L1855.6,1396.7L1857.1,1396.8L1858.6,1396.9L1860.1,1397.0L1861.6,1397.1L1863.1,1397.2L1864.6,1397.3L1866.1,1397.4L1867.6,1397.5L1869.1,1397.6L1870.6,1397.6L1872.1,1397.7L1873.6,1397.8L1875.1,1397.9L1876.6,1398.0L1878.1,1398.0L1879.6,1398.1L1881.1,1398.2L1882.6,1398.3L1884.1,1398.3L1885.6,1398.4L1887.1,1398.5L1888.6,1398.6L1890.1,1398.6L1891.6,1398.7L1893.1,1398.8L1894.6,1398.8L1896.1,1398.9L1897.6,1399.0L1899.1,1399.0L1900.6,1399.1L1902.1,1399.2L1903.6,1399.2L1905.1,1399.3L1906.6,1399.3L1908.1,1399.4L1909.6,1399.5L1911.1,1399.5L1912.6,1399.6L1914.1,1399.6L1915.6,1399.7L1917.0,1399.7L1918.5,1399.8L1920.0,1399.8L1921.5,1399.9L1923.0,1399.9L1924.5,1400.0L1926.0,1400.0L1927.5,1400.1L1929.0,1400.1L1930.5,1400.2L1932.0,1400.2L1933.5,1400.2L1935.0,1400.3L1936.5,1400.3L1938.0,1400.4L1939.5,1400.4L1941.0,1400.5L1942.5,1400.5L1944.0,1400.5L1945.5,1400.6L1947.0,1400.6L1948.5,1400.6L1950.0,1400.7L1951.5,1400.7L1953.0,1400.7L1954.5,1400.8L1956.0,1400.8L1957.5,1400.8L1959.0,1400.9L1960.5,1400.9L1962.0,1400.9L1963.5,1401.0L1965.0,1401.0" fill="none" stroke="#008000" stroke-width="7.80" stroke-linejoin="round" stroke-linecap="round"/>
<path d="M421.0,1404.2L422.5,1404.2L424.0,1404.3L425.5,1404.3L427.0,1404.3L428.5,1404.4L430.0,1404.4L431.5,1404.4L433.0,1404.5L434.5,1404.5L436.0,1404.5L437.5,1404.6L439.0,1404.6L440.5,1404.6L442.0,1404.7L443.5,1404.7L445.0,1404.7L446.5,1404.8L448.0,1404.8L449.5,1404.8L451.0,1404.8L452.5,1404.9L454.0,1404.9L455.5,1404.9L457.0,1404.9L458.5,1405.0L459.9,1405.0L461.4,1405.0L462.9,1405.0L464.4,1405.1L465.9,1405.1L467.4,1405.1L468.9,1405.1L470.4,1405.1L471.9,1405.2L473.4,1405.2L474.9,1405.2L476.4,1405.2L477.9,1405.2L479.4,1405.3L480.9,1405.3L482.4,1405.3L484.0,1405.3L485.5,1405.3L487.0,1405.3L488.5,1405.4L490.0,1405.4L491.5,1405.4L493.0,1405.4L494.5,1405.4L496.0,1405.4L497.5,1405.4L499.0,1405.4L500.5,1405.5L502.0,1405.5L503.5,1405.5L505.0,1405.5L506.5,1405.5L508.0,1405.5L509.5,1405.5L511.0,1405.5L512.5,1405.5L514.0,1405.6L515.5,1405.6L517.0,1405.6L518.5,1405.6L520.0,1405.6L521.5,1405.6L523.0,1405.6L524.5,1405.6L526.0,1405.6L527.5,1405.6L529.0,1405.6L530.5,1405.6L532.0,1405.6L533.5,1405.6L535.0,1405.6L536.5,1405.6L538.0,1405.7L539.5,1405.7L541.0,1405.7L542.5,1405.7L544.0,1405.7L545.5,1405.7L547.0,1405.7L548.5,1405.7L550.0,1405.7L551.5,1405.7L553.0,1405.7L554.5,1405.7L556.0,1405.7L557.5,1405.7L559.0,1405.7L560.6,1405.7L562.1,1405.7L563.6,1405.7L565.1,1405.7L566.6,1405.7L568.1,1405.7L569.6,1405.7L571.1,1405.7L572.6,1405.7L574.1,1405.7L575.6,1405.7L577.1,1405.6L578.6,1405.6L580.1,1405.6L581.6,1405.6L583.1,1405.6L584.6,1405.6L586.1,1405.6L587.6,1405.6L589.1,1405.6L590.6,1405.6L592.1,1405.6L593.6,1405.6L595.1,1405.6L596.6,1405.6L598.1,1405.6L599.6,1405.6L601.1,1405.6L602.6,1405.6L604.1,1405.6L605.6,1405.6L607.1,1405.5L608.6,1405.5L610.1,1405.5L611.6,1405.5L613.1,1405.5L614.6,1405.5L616.0,1405.5L617.5,1405.5L619.0,1405.5L620.5,1405.5L622.0,1405.5L623.5,1405.5L625.0,1405.5L626.5,1405.4L628.0,1405.4L629.5,1405.4L631.0,1405.4L632.5,1405.4L634.0,1405.4L635.5,1405.4L637.0,1405.4L638.5,1405.4L640.0,1405.4L641.5,1405.4L643.0,1405.4L644.5,1405.3L646.0,1405.3L647.5,1405.3L649.0,1405.3L650.5,1405.3L652.0,1405.3L653.5,1405.3L654.9,1405.3L656.4,1405.3L657.9,1405.3L659.4,1405.3L660.9,1405.3L662.4,1405.3L663.9,1405.3L665.4,1405.3L666.9,1405.3L668.4,1405.3L669.9,1405.3L671.4,1405.3L672.9,1405.3L674.4,1405.2L675.9,1405.2L677.4,1405.2L678.9,1405.2L680.4,1405.3L681.9,1405.3L683.4,1405.3L684.9,1405.3L686.4,1405.3L687.9,1405.3L689.4,1405.3L690.9,1405.3L692.4,1405.3L693.9,1405.3L695.4,1405.3L696.9,1405.3L698.4,1405.3L699.9,1405.3L701.4,1405.3L702.9,1405.4L704.4,1405.4L705.9,1405.4L707.4,1405.4L709.0,1405.4L710.5,1405.4L712.0,1405.4L713.5,1405.5L715.0,1405.5L716.5,1405.5L718.0,1405.5L719.5,1405.5L721.0,1405.6L722.5,1405.6L724.1,1405.6L725.6,1405.6L727.1,1405.7L728.6,1405.7L730.1,1405.7L731.6,1405.8L733.1,1405.8L734.7,1405.8L736.2,1405.9L737.7,1405.9L739.2,1405.9L740.7,1406.0L742.2,1406.0L743.8,1406.1L745.3,1406.1L746.8,1406.1L748.3,1406.1L749.8,1406.1L751.3,1406.1L752.8,1406.0L754.3,1406.0L755.8,1405.9L757.3,1405.8L758.8,1405.6L760.2,1405.4L761.7,1405.2L763.1,1404.9L764.5,1404.6L766.0,1404.2L767.4,1403.8L768.7,1403.3L770.1,1402.8L771.5,1402.2L772.8,1401.6L774.1,1400.9L775.4,1400.2L776.7,1399.4L777.9,1398.6L779.2,1397.7L780.4,1396.8L781.6,1395.9L782.7,1394.9L783.8,1393.9L784.9,1392.9L786.0,1391.8L787.0,1390.7L788.0,1389.6L789.0,1388.4L789.9,1387.2L790.8,1386.0L791.7,1384.8L792.5,1383.5L793.3,1382.3L794.0,1381.0L794.8,1379.7L795.5,1378.4L796.2,1377.0L796.9,1375.7L797.5,1374.3L798.2,1373.0L798.8,1371.6L799.4,1370.2L800.0,1368.9L800.6,1367.5L801.2,1366.1L801.8,1364.7L802.4,1363.3L803.0,1361.9L803.6,1360.6L804.3,1359.2L804.9,1357.8L805.5,1356.4L806.1,1355.1L806.8,1353.7L807.5,1352.4L808.1,1351.0L808.8,1349.7L809.5,1348.4L810.2,1347.0L810.9,1345.7L811.6,1344.4L812.3,1343.1L813.1,1341.8L813.8,1340.5L814.6,1339.2L815.4,1337.9L816.1,1336.7L816.9,1335.4L817.8,1334.2L818.6,1332.9L819.4,1331.7L820.3,1330.5L821.2,1329.3L822.0,1328.1L822.9,1326.9L823.9,1325.7L824.8,1324.5L825.7,1323.3L826.7,1322.2L827.6,1321.0L828.6,1319.9L829.6,1318.8L830.6,1317.7L831.6,1316.5L832.6,1315.4L833.7,1314.4L834.7,1313.3L835.8,1312.2L836.8,1311.1L837.9,1310.1L839.0,1309.0L840.1,1308.0L841.2,1307.0L842.3,1306.0L843.4,1305.0L844.5,1304.0L845.7,1303.0L846.8,1302.0L848.0,1301.1L849.2,1300.1L850.3,1299.2L851.5,1298.3L852.7,1297.4L854.0,1296.5L855.2,1295.6L856.4,1294.8L857.7,1294.0L858.9,1293.2L860.2,1292.4L861.5,1291.6L862.8,1290.9L864.1,1290.2L865.5,1289.5L866.8,1288.8L868.2,1288.2L869.6,1287.5L870.9,1287.0L872.3,1286.4L873.8,1285.8L875.2,1285.3L876.6,1284.9L878.1,1284.4L879.5,1284.0L881.0,1283.6L882.4,1283.3L883.9,1283.0L885.4,1282.7L886.9,1282.5L888.3,1282.3L889.8,1282.2L891.3,1282.1L892.8,1282.1L894.2,1282.1L895.7,1282.1L897.1,1282.3L898.6,1282.4L900.0,1282.6L901.5,1282.9L902.9,1283.2L904.3,1283.6L905.7,1284.0L907.1,1284.4L908.5,1284.9L909.9,1285.4L911.3,1286.0L912.7,1286.6L914.0,1287.2L915.4,1287.8L916.8,1288.5L918.1,1289.2L919.5,1290.0L920.8,1290.7L922.1,1291.5L923.5,1292.3L924.8,1293.1L926.1,1293.9L927.4,1294.7L928.7,1295.5L930.0,1296.4L931.3,1297.2L932.6,1298.1L933.9,1298.9L935.2,1299.8L936.4,1300.7L937.7,1301.5L939.0,1302.4L940.2,1303.2L941.5,1304.0L942.7,1304.8L944.0,1305.6L945.3,1306.4L946.5,1307.2L947.8,1307.9L949.0,1308.6L950.3,1309.3L951.6,1310.0L952.9,1310.6L954.2,1311.2L955.6,1311.7L956.9,1312.2L958.3,1312.7L959.7,1313.1L961.2,1313.4L962.7,1313.7L964.2,1313.9L965.7,1314.1L967.3,1314.2L968.9,1314.2L970.5,1314.2L972.0,1314.0L973.5,1313.7L974.9,1313.3L976.3,1312.9L977.6,1312.2L978.9,1311.5L980.0,1310.7L981.2,1309.9L982.3,1308.9L983.3,1307.9L984.3,1306.8L985.3,1305.6L986.2,1304.4L987.0,1303.2L987.9,1301.9L988.7,1300.5L989.4,1299.2L990.2,1297.8L990.9,1296.4L991.5,1295.0L992.2,1293.6L992.9,1292.2L993.5,1290.8L994.1,1289.4L994.7,1288.1L995.2,1286.7L995.8,1285.3L996.3,1283.9L996.8,1282.5L997.4,1281.2L997.9,1279.8L998.3,1278.4L998.8,1277.0L999.3,1275.6L999.7,1274.2L1000.2,1272.8L1000.6,1271.3L1001.0,1269.9L1001.4,1268.5L1001.8,1267.0L1002.2,1265.5L1002.6,1264.1L1003.1,1262.6L1003.5,1261.1L1003.9,1259.7L1004.3,1258.2L1004.8,1256.8L1005.2,1255.3L1005.7,1253.9L1006.2,1252.5L1006.7,1251.0L1007.2,1249.6L1007.8,1248.2L1008.4,1246.9L1008.9,1245.5L1009.5,1244.1L1010.1,1242.7L1010.8,1241.4L1011.4,1240.0L1012.0,1238.7L1012.7,1237.4L1013.3,1236.0L1014.0,1234.7L1014.6,1233.3L1015.3,1232.0L1016.0,1230.7L1016.6,1229.4L1017.3,1228.0L1018.0,1226.7L1018.6,1225.4L1019.3,1224.0L1019.9,1222.7L1020.6,1221.3L1021.2,1220.0L1021.9,1218.6L1022.5,1217.3L1023.1,1215.9L1023.7,1214.6L1024.3,1213.2L1024.9,1211.8L1025.5,1210.4L1026.1,1209.1L1026.7,1207.7L1027.2,1206.3L1027.8,1204.9L1028.3,1203.5L1028.8,1202.1L1029.3,1200.7L1029.8,1199.2L1030.3,1197.8L1030.7,1196.4L1031.2,1194.9L1031.6,1193.5L1032.0,1192.0L1032.4,1190.6L1032.8,1189.1L1033.1,1187.7L1033.5,1186.2L1033.9,1184.7L1034.2,1183.3L1034.6,1181.8L1035.0,1180.3L1035.4,1178.9L1035.7,1177.4L1036.1,1176.0L1036.6,1174.5L1037.0,1173.1L1037.4,1171.6L1037.9,1170.2L1038.4,1168.8L1038.9,1167.4L1039.4,1166.0L1040.0,1164.6L1040.6,1163.3L1041.2,1161.9L1041.9,1160.6L1042.6,1159.2L1043.3,1157.9L1044.1,1156.6L1044.9,1155.4L1045.7,1154.1L1046.7,1152.9L1047.6,1151.8L1048.6,1150.6L1049.7,1149.6L1050.8,1148.6L1051.9,1147.7L1053.1,1146.8L1054.4,1146.0L1055.7,1145.4L1057.1,1144.8L1058.5,1144.3L1059.9,1143.8L1061.4,1143.3L1062.7,1142.7L1064.1,1142.1L1065.3,1141.4L1066.5,1140.5L1067.7,1139.7L1068.8,1138.7L1069.9,1137.7L1071.0,1136.7L1072.1,1135.7L1073.2,1134.6L1074.3,1133.6L1075.4,1132.6L1076.6,1131.5L1077.7,1130.5L1078.9,1129.5L1080.1,1128.5L1081.4,1127.5L1082.6,1126.6L1083.9,1125.7L1085.3,1124.9L1086.6,1124.2L1088.0,1123.7L1089.3,1123.3L1090.7,1123.1L1092.0,1123.2L1093.3,1123.5L1094.6,1124.0L1095.9,1124.7L1097.2,1125.4L1098.5,1126.3L1099.8,1127.2L1101.0,1128.1L1102.2,1129.1L1103.4,1130.1L1104.6,1131.0L1105.8,1132.0L1107.0,1133.0L1108.1,1134.0L1109.3,1135.1L1110.4,1136.1L1111.5,1137.1L1112.6,1138.2L1113.6,1139.3L1114.7,1140.4L1115.7,1141.5L1116.7,1142.6L1117.7,1143.7L1118.7,1144.8L1119.7,1146.0L1120.6,1147.1L1121.5,1148.3L1122.5,1149.5L1123.3,1150.7L1124.2,1151.9L1125.1,1153.1L1125.9,1154.3L1126.7,1155.6L1127.5,1156.8L1128.3,1158.1L1129.0,1159.4L1129.8,1160.7L1130.5,1162.0L1131.2,1163.3L1131.9,1164.6L1132.5,1165.9L1133.2,1167.3L1133.8,1168.6L1134.4,1169.9L1135.0,1171.3L1135.6,1172.7L1136.2,1174.1L1136.7,1175.4L1137.3,1176.8L1137.8,1178.2L1138.4,1179.6L1138.9,1181.0L1139.4,1182.4L1139.9,1183.9L1140.4,1185.3L1140.9,1186.7L1141.4,1188.1L1141.8,1189.6L1142.3,1191.0L1142.8,1192.4L1143.2,1193.9L1143.7,1195.3L1144.2,1196.8L1144.6,1198.2L1145.1,1199.7L1145.5,1201.1L1146.0,1202.6L1146.4,1204.0L1146.9,1205.4L1147.4,1206.9L1147.8,1208.3L1148.3,1209.8L1148.8,1211.2L1149.2,1212.6L1149.7,1214.1L1150.2,1215.5L1150.7,1216.9L1151.2,1218.3L1151.7,1219.7L1152.2,1221.2L1152.8,1222.6L1153.3,1224.0L1153.9,1225.3L1154.4,1226.7L1155.0,1228.1L1155.6,1229.5L1156.2,1230.9L1156.8,1232.2L1157.4,1233.6L1158.0,1235.0L1158.6,1236.3L1159.2,1237.7L1159.9,1239.0L1160.5,1240.3L1161.2,1241.7L1161.9,1243.0L1162.5,1244.3L1163.2,1245.7L1163.9,1247.0L1164.6,1248.3L1165.3,1249.6L1166.1,1250.9L1166.8,1252.2L1167.5,1253.6L1168.3,1254.9L1169.0,1256.2L1169.8,1257.5L1170.5,1258.8L1171.3,1260.1L1172.1,1261.3L1172.8,1262.6L1173.6,1263.9L1174.4,1265.2L1175.1,1266.5L1175.9,1267.8L1176.7,1269.1L1177.5,1270.4L1178.3,1271.7L1179.0,1273.0L1179.8,1274.2L1180.6,1275.5L1181.3,1276.8L1182.1,1278.1L1182.8,1279.4L1183.6,1280.7L1184.3,1282.0L1185.1,1283.3L1185.8,1284.6L1186.5,1285.9L1187.3,1287.2L1188.0,1288.5L1188.8,1289.8L1189.5,1291.1L1190.2,1292.4L1191.0,1293.7L1191.8,1295.0L1192.5,1296.2L1193.3,1297.5L1194.1,1298.8L1194.9,1300.0L1195.7,1301.3L1196.6,1302.5L1197.4,1303.7L1198.3,1305.0L1199.1,1306.2L1200.0,1307.4L1200.9,1308.6L1201.8,1309.8L1202.7,1311.0L1203.7,1312.1L1204.6,1313.3L1205.6,1314.5L1206.5,1315.6L1207.5,1316.8L1208.5,1317.9L1209.5,1319.0L1210.5,1320.1L1211.5,1321.2L1212.6,1322.3L1213.6,1323.4L1214.7,1324.5L1215.7,1325.5L1216.8,1326.6L1217.9,1327.6L1219.0,1328.7L1220.1,1329.7L1221.2,1330.7L1222.3,1331.7L1223.5,1332.7L1224.6,1333.7L1225.8,1334.6L1226.9,1335.6L1228.1,1336.5L1229.3,1337.5L1230.5,1338.4L1231.7,1339.3L1232.9,1340.2L1234.1,1341.1L1235.3,1342.0L1236.5,1342.9L1237.8,1343.7L1239.0,1344.6L1240.3,1345.4L1241.5,1346.2L1242.8,1347.0L1244.1,1347.8L1245.4,1348.6L1246.6,1349.4L1247.9,1350.1L1249.2,1350.9L1250.5,1351.6L1251.9,1352.3L1253.2,1353.0L1254.5,1353.7L1255.8,1354.4L1257.2,1355.1L1258.5,1355.8L1259.9,1356.4L1261.2,1357.0L1262.6,1357.6L1264.0,1358.3L1265.3,1358.8L1266.7,1359.4L1268.1,1360.0L1269.5,1360.6L1270.9,1361.1L1272.3,1361.6L1273.7,1362.1L1275.1,1362.7L1276.5,1363.1L1277.9,1363.6L1279.3,1364.1L1280.8,1364.5L1282.2,1365.0L1283.6,1365.4L1285.1,1365.8L1286.5,1366.2L1287.9,1366.6L1289.4,1367.0L1290.8,1367.4L1292.3,1367.7L1293.7,1368.1L1295.2,1368.4L1296.6,1368.7L1298.1,1369.0L1299.6,1369.3L1301.0,1369.6L1302.5,1369.9L1304.0,1370.1L1305.5,1370.4L1306.9,1370.6L1308.4,1370.8L1309.9,1371.0L1311.4,1371.2L1312.9,1371.4L1314.3,1371.6L1315.8,1371.8L1317.3,1371.9L1318.8,1372.1L1320.3,1372.2L1321.8,1372.3L1323.3,1372.4L1324.8,1372.6L1326.3,1372.7L1327.8,1372.8L1329.3,1372.9L1330.8,1372.9L1332.3,1373.0L1333.8,1373.1L1335.3,1373.1L1336.8,1373.2L1338.3,1373.3L1339.8,1373.3L1341.3,1373.3L1342.8,1373.4L1344.4,1373.4L1345.9,1373.4L1347.4,1373.4L1348.9,1373.5L1350.4,1373.5L1351.9,1373.5L1353.4,1373.5L1354.9,1373.5L1356.4,1373.5L1358.0,1373.5L1359.5,1373.5L1361.0,1373.5L1362.5,1373.5L1364.0,1373.5L1365.5,1373.5L1367.0,1373.4L1368.5,1373.4L1370.0,1373.4L1371.5,1373.4L1373.1,1373.4L1374.6,1373.4L1376.1,1373.4L1377.6,1373.4L1379.1,1373.4L1380.6,1373.4L1382.1,1373.4L1383.6,1373.4L1385.1,1373.4L1386.6,1373.4L1388.1,1373.4L1389.6,1373.4L1391.1,1373.5L1392.6,1373.5L1394.1,1373.5L1395.6,1373.6L1397.1,1373.7L1398.6,1373.7L1400.1,1373.8L1401.6,1373.9L1403.1,1373.9L1404.6,1374.0L1406.0,1374.1L1407.5,1374.3L1409.0,1374.4L1410.5,1374.5L1412.0,1374.7L1413.5,1374.8L1415.0,1375.0L1416.4,1375.2L1417.9,1375.4L1419.4,1375.6L1420.9,1375.8L1422.3,1376.0L1423.8,1376.3L1425.3,1376.5L1426.8,1376.8L1428.2,1377.1L1429.7,1377.4L1431.2,1377.7L1432.6,1378.0L1434.1,1378.3L1435.6,1378.7L1437.0,1379.0L1438.5,1379.3L1439.9,1379.7L1441.4,1380.0L1442.9,1380.4L1444.3,1380.7L1445.8,1381.1L1447.3,1381.4L1448.7,1381.8L1450.2,1382.1L1451.6,1382.5L1453.1,1382.8L1454.6,1383.2L1456.0,1383.5L1457.5,1383.9L1459.0,1384.2L1460.4,1384.5L1461.9,1384.9L1463.4,1385.2L1464.8,1385.5L1466.3,1385.8L1467.8,1386.1L1469.2,1386.4L1470.7,1386.7L1472.2,1387.0L1473.7,1387.3L1475.1,1387.5L1476.6,1387.8L1478.1,1388.1L1479.6,1388.3L1481.0,1388.6L1482.5,1388.9L1484.0,1389.1L1485.5,1389.3L1486.9,1389.6L1488.4,1389.8L1489.9,1390.0L1491.4,1390.3L1492.9,1390.5L1494.3,1390.7L1495.8,1390.9L1497.3,1391.1L1498.8,1391.3L1500.3,1391.5L1501.8,1391.7L1503.3,1391.9L1504.7,1392.1L1506.2,1392.3L1507.7,1392.5L1509.2,1392.6L1510.7,1392.8L1512.2,1393.0L1513.7,1393.2L1515.1,1393.3L1516.6,1393.5L1518.1,1393.6L1519.6,1393.8L1521.1,1393.9L1522.6,1394.1L1524.1,1394.2L1525.6,1394.4L1527.1,1394.5L1528.6,1394.6L1530.1,1394.8L1531.6,1394.9L1533.1,1395.0L1534.5,1395.1L1536.0,1395.2L1537.5,1395.4L1539.0,1395.5L1540.5,1395.6L1542.0,1395.7L1543.5,1395.8L1545.0,1395.9L1546.5,1396.0L1548.0,1396.1L1549.5,1396.2L1551.0,1396.3L1552.5,1396.4L1554.0,1396.5L1555.5,1396.6L1557.0,1396.7L1558.5,1396.8L1560.0,1396.8L1561.5,1396.9L1563.0,1397.0L1564.5,1397.1L1566.0,1397.2L1567.5,1397.2L1569.0,1397.3L1570.5,1397.4L1572.0,1397.5L1573.5,1397.5L1575.0,1397.6L1576.5,1397.7L1578.0,1397.7L1579.5,1397.8L1581.0,1397.9L1582.5,1397.9L1584.0,1398.0L1585.5,1398.1L1587.0,1398.1L1588.5,1398.2L1590.0,1398.3L1591.5,1398.3L1593.0,1398.4L1594.5,1398.4L1596.0,1398.5L1597.5,1398.6L1599.0,1398.6L1600.5,1398.7L1602.0,1398.7L1603.5,1398.8L1605.0,1398.9L1606.5,1398.9L1608.0,1399.0L1609.5,1399.0L1611.0,1399.1L1612.5,1399.1L1614.0,1399.2L1615.5,1399.2L1617.0,1399.3L1618.5,1399.3L1620.0,1399.4L1621.5,1399.5L1623.0,1399.5L1624.5,1399.6L1626.0,1399.6L1627.5,1399.7L1629.0,1399.7L1630.5,1399.8L1632.0,1399.8L1633.5,1399.9L1635.0,1399.9L1636.5,1399.9L1638.0,1400.0L1639.5,1400.0L1641.0,1400.1L1642.5,1400.1L1644.0,1400.2L1645.5,1400.2L1647.0,1400.3L1648.5,1400.3L1650.0,1400.4L1651.5,1400.4L1653.0,1400.4L1654.5,1400.5L1656.0,1400.5L1657.5,1400.6L1659.0,1400.6L1660.5,1400.7L1662.0,1400.7L1663.5,1400.7L1665.0,1400.8L1666.5,1400.8L1668.0,1400.9L1669.5,1400.9L1671.0,1400.9L1672.5,1401.0L1674.0,1401.0L1675.5,1401.0L1677.0,1401.1L1678.5,1401.1L1680.0,1401.2L1681.5,1401.2L1683.0,1401.2L1684.5,1401.3L1686.0,1401.3L1687.5,1401.3L1689.0,1401.4L1690.5,1401.4L1692.0,1401.4L1693.5,1401.5L1695.0,1401.5L1696.5,1401.5L1698.0,1401.6L1699.5,1401.6L1701.0,1401.6L1702.5,1401.6L1704.0,1401.7L1705.5,1401.7L1707.0,1401.7L1708.5,1401.8L1710.0,1401.8L1711.5,1401.8L1713.0,1401.9L1714.5,1401.9L1716.0,1401.9L1717.5,1401.9L1719.0,1402.0L1720.5,1402.0L1722.0,1402.0L1723.5,1402.0L1725.0,1402.1L1726.5,1402.1L1728.0,1402.1L1729.5,1402.1L1731.0,1402.2L1732.5,1402.2L1734.0,1402.2L1735.5,1402.2L1737.0,1402.3L1738.5,1402.3L1740.0,1402.3L1741.5,1402.3L1743.0,1402.4L1744.5,1402.4L1746.0,1402.4L1747.5,1402.4L1749.0,1402.4L1750.5,1402.5L1752.0,1402.5L1753.5,1402.5L1755.0,1402.5L1756.5,1402.5L1758.0,1402.6L1759.5,1402.6L1761.0,1402.6L1762.5,1402.6L1764.0,1402.6L1765.5,1402.7L1767.0,1402.7L1768.5,1402.7L1770.0,1402.7L1771.5,1402.7L1773.0,1402.7L1774.5,1402.8L1776.0,1402.8L1777.5,1402.8L1779.0,1402.8L1780.5,1402.8L1782.0,1402.8L1783.5,1402.9L1785.0,1402.9L1786.5,1402.9L1788.0,1402.9L1789.5,1402.9L1791.0,1402.9L1792.5,1402.9L1794.0,1403.0L1795.5,1403.0L1797.0,1403.0L1798.5,1403.0L1800.0,1403.0L1801.5,1403.0L1803.0,1403.0L1804.5,1403.0L1806.0,1403.1L1807.5,1403.1L1809.0,1403.1L1810.5,1403.1L1812.0,1403.1L1813.5,1403.1L1815.0,1403.1L1816.5,1403.1L1818.0,1403.2L1819.5,1403.2L1821.0,1403.2L1822.5,1403.2L1824.0,1403.2L1825.5,1403.2L1827.0,1403.2L1828.5,1403.2L1830.0,1403.2L1831.5,1403.2L1833.0,1403.3L1834.5,1403.3L1836.0,1403.3L1837.5,1403.3L1839.0,1403.3L1840.5,1403.3L1842.0,1403.3L1843.5,1403.3L1845.0,1403.3L1846.5,1403.3L1848.0,1403.3L1849.5,1403.3L1851.0,1403.4L1852.5,1403.4L1854.0,1403.4L1855.5,1403.4L1857.0,1403.4L1858.5,1403.4L1860.0,1403.4L1861.5,1403.4L1863.0,1403.4L1864.5,1403.4L1866.0,1403.4L1867.5,1403.4L1869.0,1403.4L1870.5,1403.4L1872.0,1403.5L1873.5,1403.5L1875.0,1403.5L1876.5,1403.5L1878.0,1403.5L1879.5,1403.5L1881.0,1403.5L1882.5,1403.5L1884.0,1403.5L1885.5,1403.5L1887.0,1403.5L1888.5,1403.5L1890.0,1403.5L1891.5,1403.5L1893.0,1403.5L1894.5,1403.5L1896.0,1403.5L1897.5,1403.5L1899.0,1403.5L1900.5,1403.6L1902.0,1403.6L1903.5,1403.6L1905.0,1403.6L1906.5,1403.6L1908.0,1403.6L1909.5,1403.6L1911.0,1403.6L1912.5,1403.6L1914.0,1403.6L1915.5,1403.6L1917.0,1403.6L1918.5,1403.6L1920.0,1403.6L1921.5,1403.6L1923.0,1403.6L1924.5,1403.6L1926.0,1403.6L1927.5,1403.6L1929.0,1403.6L1930.5,1403.6L1932.0,1403.6L1933.5,1403.7L1935.0,1403.7L1936.5,1403.7L1938.0,1403.7L1939.5,1403.7L1941.0,1403.7L1942.5,1403.7L1944.0,1403.7L1945.5,1403.7L1947.0,1403.7L1948.5,1403.7L1950.0,1403.7L1951.5,1403.7L1953.0,1403.7L1954.5,1403.7L1956.0,1403.7L1957.5,1403.7L1959.0,1403.7L1960.5,1403.7L1962.0,1403.7L1963.5,1403.7L1965.0,1403.7" fill="none" stroke="#ff0000" stroke-width="7.80" stroke-linejoin="round" stroke-linecap="round"/>
<path d="M421.0,1403.7L422.5,1403.7L424.0,1403.7L425.5,1403.7L427.0,1403.7L428.5,1403.7L430.0,1403.7L431.5,1403.7L433.0,1403.8L434.5,1403.8L436.0,1403.8L437.5,1403.8L439.0,1403.8L440.5,1403.8L442.0,1403.8L443.5,1403.8L445.0,1403.8L446.5,1403.8L448.0,1403.9L449.5,1403.9L451.0,1403.9L452.5,1403.9L454.0,1403.9L455.5,1403.9L457.0,1403.9L458.5,1403.9L460.0,1403.9L461.5,1403.9L463.0,1403.9L464.5,1403.9L466.0,1404.0L467.5,1404.0L469.0,1404.0L470.5,1404.0L472.0,1404.0L473.5,1404.0L475.0,1404.0L476.5,1404.0L478.0,1404.0L479.5,1404.0L481.0,1404.0L482.5,1404.0L484.0,1404.0L485.5,1404.0L487.0,1404.1L488.5,1404.1L490.0,1404.1L491.5,1404.1L493.0,1404.1L494.5,1404.1L496.0,1404.1L497.5,1404.1L499.0,1404.1L500.5,1404.1L502.0,1404.1L503.5,1404.1L505.0,1404.1L506.5,1404.1L508.0,1404.1L509.5,1404.1L511.0,1404.1L512.5,1404.1L514.0,1404.1L515.6,1404.2L517.1,1404.2L518.6,1404.2L520.1,1404.2L521.6,1404.2L523.1,1404.2L524.6,1404.2L526.1,1404.2L527.6,1404.2L529.1,1404.2L530.6,1404.2L532.1,1404.2L533.6,1404.2L535.1,1404.2L536.6,1404.2L538.1,1404.2L539.6,1404.2L541.1,1404.2L542.6,1404.2L544.1,1404.2L545.6,1404.2L547.1,1404.2L548.6,1404.2L550.1,1404.2L551.6,1404.2L553.1,1404.2L554.6,1404.2L556.1,1404.2L557.6,1404.2L559.1,1404.2L560.6,1404.2L562.1,1404.2L563.6,1404.2L565.1,1404.3L566.6,1404.3L568.1,1404.3L569.6,1404.3L571.1,1404.3L572.6,1404.3L574.1,1404.3L575.6,1404.3L577.1,1404.3L578.6,1404.3L580.1,1404.3L581.6,1404.3L583.1,1404.3L584.6,1404.3L586.1,1404.3L587.6,1404.3L589.1,1404.3L590.6,1404.3L592.1,1404.3L593.6,1404.3L595.1,1404.3L596.6,1404.3L598.1,1404.3L599.6,1404.3L601.1,1404.3L602.6,1404.3L604.1,1404.3L605.6,1404.3L607.1,1404.3L608.6,1404.3L610.1,1404.3L611.6,1404.3L613.1,1404.3L614.6,1404.3L616.1,1404.3L617.6,1404.3L619.1,1404.3L620.6,1404.3L622.1,1404.3L623.6,1404.3L625.1,1404.3L626.6,1404.3L628.1,1404.3L629.6,1404.3L631.1,1404.3L632.6,1404.3L634.1,1404.3L635.6,1404.3L637.1,1404.3L638.6,1404.3L640.1,1404.3L641.6,1404.3L643.1,1404.3L644.6,1404.3L646.1,1404.3L647.6,1404.3L649.1,1404.3L650.6,1404.3L652.1,1404.3L653.6,1404.3L655.1,1404.3L656.6,1404.3L658.1,1404.3L659.6,1404.3L661.1,1404.3L662.6,1404.3L664.1,1404.3L665.6,1404.3L667.1,1404.3L668.6,1404.3L670.1,1404.2L671.6,1404.2L673.1,1404.2L674.6,1404.2L676.1,1404.2L677.6,1404.2L679.1,1404.2L680.6,1404.2L682.1,1404.2L683.6,1404.2L685.1,1404.2L686.6,1404.2L688.1,1404.2L689.6,1404.2L691.1,1404.2L692.6,1404.2L694.1,1404.2L695.6,1404.2L697.1,1404.2L698.6,1404.2L700.1,1404.2L701.6,1404.2L703.1,1404.2L704.6,1404.2L706.1,1404.2L707.7,1404.2L709.2,1404.2L710.7,1404.2L712.2,1404.2L713.7,1404.2L715.2,1404.2L716.7,1404.2L718.2,1404.2L719.7,1404.2L721.2,1404.2L722.7,1404.2L724.2,1404.2L725.7,1404.2L727.2,1404.2L728.7,1404.2L730.2,1404.2L731.7,1404.2L733.2,1404.2L734.7,1404.2L736.2,1404.2L737.7,1404.2L739.2,1404.2L740.7,1404.2L742.2,1404.2L743.7,1404.2L745.2,1404.2L746.7,1404.2L748.2,1404.2L749.7,1404.2L751.2,1404.2L752.7,1404.2L754.2,1404.2L755.7,1404.2L757.2,1404.2L758.7,1404.2L760.2,1404.2L761.7,1404.2L763.2,1404.2L764.7,1404.2L766.2,1404.2L767.7,1404.2L769.2,1404.2L770.7,1404.2L772.2,1404.2L773.7,1404.2L775.2,1404.1L776.7,1404.1L778.2,1404.1L779.7,1404.1L781.2,1404.1L782.7,1404.1L784.2,1404.1L785.7,1404.1L787.2,1404.1L788.7,1404.1L790.2,1404.1L791.7,1404.1L793.2,1404.1L794.7,1404.1L796.2,1404.1L797.7,1404.1L799.2,1404.1L800.7,1404.1L802.2,1404.1L803.7,1404.1L805.2,1404.1L806.7,1404.1L808.2,1404.1L809.7,1404.1L811.2,1404.1L812.7,1404.1L814.2,1404.1L815.7,1404.1L817.2,1404.1L818.7,1404.1L820.2,1404.1L821.7,1404.1L823.2,1404.1L824.7,1404.1L826.2,1404.1L827.7,1404.1L829.2,1404.1L830.7,1404.1L832.2,1404.1L833.7,1404.1L835.2,1404.1L836.7,1404.1L838.2,1404.1L839.7,1404.1L841.2,1404.1L842.7,1404.1L844.2,1404.1L845.7,1404.1L847.2,1404.1L848.7,1404.1L850.2,1404.1L851.7,1404.1L853.2,1404.1L854.7,1404.1L856.2,1404.1L857.7,1404.1L859.2,1404.1L860.7,1404.1L862.2,1404.2L863.7,1404.2L865.2,1404.2L866.7,1404.2L868.3,1404.2L869.8,1404.2L871.3,1404.2L872.8,1404.2L874.3,1404.2L875.8,1404.2L877.3,1404.2L878.8,1404.2L880.3,1404.2L881.8,1404.2L883.3,1404.2L884.8,1404.2L886.3,1404.2L887.8,1404.2L889.3,1404.2L890.8,1404.2L892.3,1404.2L893.8,1404.2L895.3,1404.2L896.8,1404.2L898.3,1404.2L899.8,1404.2L901.3,1404.2L902.8,1404.2L904.3,1404.2L905.8,1404.2L907.3,1404.2L908.8,1404.2L910.3,1404.2L911.8,1404.2L913.3,1404.2L914.8,1404.2L916.3,1404.2L917.8,1404.2L919.3,1404.2L920.8,1404.2L922.3,1404.2L923.8,1404.2L925.3,1404.3L926.8,1404.3L928.3,1404.3L929.8,1404.3L931.3,1404.3L932.8,1404.3L934.3,1404.3L935.8,1404.3L937.3,1404.3L938.8,1404.3L940.3,1404.3L941.8,1404.3L943.3,1404.3L944.8,1404.3L946.3,1404.3L947.8,1404.3L949.3,1404.3L950.8,1404.3L952.3,1404.3L953.8,1404.3L955.3,1404.3L956.8,1404.3L958.3,1404.4L959.8,1404.4L961.3,1404.4L962.8,1404.4L964.3,1404.4L965.8,1404.4L967.3,1404.4L968.8,1404.4L970.3,1404.4L971.8,1404.3L973.3,1404.3L974.8,1404.3L976.3,1404.3L977.8,1404.3L979.3,1404.3L980.8,1404.3L982.3,1404.3L983.8,1404.2L985.3,1404.2L986.8,1404.2L988.3,1404.2L989.8,1404.1L991.3,1404.1L992.8,1404.1L994.3,1404.0L995.8,1404.0L997.3,1403.9L998.8,1403.9L1000.3,1403.8L1001.8,1403.8L1003.3,1403.7L1004.8,1403.6L1006.3,1403.6L1007.8,1403.5L1009.3,1403.4L1010.8,1403.3L1012.3,1403.2L1013.8,1403.1L1015.3,1403.1L1016.8,1403.0L1018.3,1402.8L1019.8,1402.7L1021.3,1402.6L1022.8,1402.5L1024.3,1402.4L1025.8,1402.2L1027.3,1402.1L1028.8,1401.9L1030.3,1401.8L1031.8,1401.6L1033.3,1401.5L1034.8,1401.3L1036.3,1401.1L1037.8,1400.9L1039.3,1400.7L1040.8,1400.5L1042.3,1400.2L1043.8,1399.9L1045.2,1399.7L1046.7,1399.3L1048.1,1399.0L1049.6,1398.7L1051.0,1398.3L1052.5,1397.9L1053.9,1397.4L1055.3,1397.0L1056.7,1396.5L1058.1,1395.9L1059.5,1395.4L1060.8,1394.8L1062.2,1394.2L1063.5,1393.6L1064.9,1392.9L1066.2,1392.3L1067.6,1391.6L1068.9,1390.9L1070.2,1390.1L1071.5,1389.4L1072.8,1388.7L1074.1,1387.9L1075.4,1387.1L1076.7,1386.3L1078.0,1385.5L1079.3,1384.7L1080.6,1383.9L1081.8,1383.0L1083.1,1382.2L1084.4,1381.3L1085.7,1380.5L1086.9,1379.7L1088.2,1378.8L1089.5,1377.9L1090.7,1377.1L1091.9,1376.2L1093.1,1375.3L1094.3,1374.3L1095.4,1373.4L1096.5,1372.4L1097.6,1371.3L1098.6,1370.3L1099.6,1369.2L1100.5,1368.1L1101.4,1366.9L1102.3,1365.8L1103.1,1364.6L1103.9,1363.4L1104.7,1362.1L1105.5,1360.8L1106.2,1359.6L1106.9,1358.3L1107.5,1356.9L1108.2,1355.6L1108.8,1354.2L1109.4,1352.8L1110.0,1351.5L1110.5,1350.0L1111.0,1348.6L1111.5,1347.2L1112.0,1345.8L1112.5,1344.3L1113.0,1342.9L1113.4,1341.4L1113.8,1339.9L1114.2,1338.4L1114.6,1337.0L1115.0,1335.5L1115.4,1334.0L1115.8,1332.5L1116.1,1331.0L1116.5,1329.6L1116.9,1328.1L1117.2,1326.6L1117.5,1325.1L1117.9,1323.6L1118.2,1322.2L1118.5,1320.7L1118.8,1319.2L1119.1,1317.7L1119.5,1316.3L1119.8,1314.8L1120.1,1313.3L1120.4,1311.9L1120.7,1310.4L1120.9,1308.9L1121.2,1307.5L1121.5,1306.0L1121.8,1304.5L1122.1,1303.1L1122.4,1301.6L1122.7,1300.1L1123.0,1298.7L1123.3,1297.2L1123.5,1295.7L1123.8,1294.3L1124.1,1292.8L1124.4,1291.4L1124.7,1289.9L1125.0,1288.4L1125.3,1287.0L1125.6,1285.5L1125.9,1284.1L1126.3,1282.6L1126.6,1281.1L1126.9,1279.7L1127.2,1278.2L1127.6,1276.8L1127.9,1275.3L1128.2,1273.9L1128.6,1272.4L1128.9,1271.0L1129.3,1269.5L1129.6,1268.0L1130.0,1266.6L1130.4,1265.1L1130.7,1263.7L1131.1,1262.2L1131.5,1260.8L1131.9,1259.3L1132.2,1257.9L1132.6,1256.4L1133.0,1255.0L1133.4,1253.5L1133.8,1252.1L1134.2,1250.6L1134.6,1249.2L1135.0,1247.7L1135.4,1246.3L1135.8,1244.8L1136.2,1243.4L1136.6,1241.9L1137.0,1240.5L1137.4,1239.0L1137.8,1237.6L1138.2,1236.1L1138.6,1234.7L1139.0,1233.2L1139.4,1231.8L1139.9,1230.3L1140.3,1228.9L1140.7,1227.4L1141.1,1226.0L1141.5,1224.5L1141.9,1223.1L1142.3,1221.6L1142.7,1220.2L1143.2,1218.7L1143.6,1217.3L1144.0,1215.8L1144.4,1214.4L1144.8,1212.9L1145.2,1211.5L1145.6,1210.0L1146.0,1208.6L1146.4,1207.1L1146.8,1205.7L1147.2,1204.2L1147.6,1202.8L1148.0,1201.3L1148.4,1199.9L1148.8,1198.4L1149.2,1197.0L1149.6,1195.5L1150.0,1194.1L1150.4,1192.6L1150.7,1191.2L1151.1,1189.7L1151.5,1188.3L1151.9,1186.8L1152.2,1185.4L1152.6,1183.9L1153.0,1182.5L1153.3,1181.0L1153.7,1179.6L1154.0,1178.1L1154.4,1176.7L1154.7,1175.2L1155.0,1173.8L1155.4,1172.3L1155.7,1170.9L1156.0,1169.4L1156.3,1167.9L1156.6,1166.5L1157.0,1165.0L1157.3,1163.6L1157.6,1162.1L1157.8,1160.7L1158.1,1159.2L1158.4,1157.7L1158.7,1156.3L1159.0,1154.8L1159.2,1153.4L1159.5,1151.9L1159.7,1150.4L1160.0,1149.0L1160.3,1147.5L1160.5,1146.1L1160.8,1144.6L1161.1,1143.1L1161.3,1141.7L1161.6,1140.2L1161.9,1138.7L1162.1,1137.2L1162.4,1135.8L1162.7,1134.3L1163.0,1132.8L1163.3,1131.3L1163.7,1129.9L1164.0,1128.4L1164.3,1126.9L1164.7,1125.4L1165.1,1123.9L1165.5,1122.4L1165.9,1120.9L1166.3,1119.4L1166.7,1117.9L1167.2,1116.4L1167.6,1114.9L1168.1,1113.4L1168.6,1111.9L1169.2,1110.4L1169.7,1108.9L1170.4,1107.5L1171.1,1106.2L1172.0,1105.0L1172.9,1104.0L1174.0,1103.1L1175.2,1102.4L1176.4,1102.0L1177.6,1101.9L1178.7,1102.2L1179.8,1102.7L1180.7,1103.5L1181.5,1104.6L1182.2,1105.8L1182.8,1107.2L1183.4,1108.7L1183.9,1110.3L1184.4,1111.8L1184.9,1113.4L1185.4,1114.9L1185.8,1116.4L1186.3,1117.9L1186.8,1119.4L1187.2,1120.8L1187.7,1122.3L1188.1,1123.8L1188.5,1125.2L1189.0,1126.7L1189.4,1128.1L1189.8,1129.6L1190.2,1131.0L1190.6,1132.4L1191.0,1133.9L1191.4,1135.3L1191.8,1136.7L1192.2,1138.1L1192.5,1139.6L1192.9,1141.0L1193.3,1142.4L1193.6,1143.8L1194.0,1145.3L1194.4,1146.7L1194.7,1148.1L1195.1,1149.6L1195.4,1151.0L1195.8,1152.5L1196.1,1154.0L1196.5,1155.4L1196.8,1156.9L1197.2,1158.4L1197.5,1159.8L1197.9,1161.3L1198.3,1162.8L1198.7,1164.3L1199.1,1165.7L1199.5,1167.2L1199.9,1168.6L1200.4,1170.1L1200.9,1171.5L1201.4,1172.9L1201.9,1174.3L1202.4,1175.7L1203.0,1177.1L1203.6,1178.5L1204.2,1179.9L1204.8,1181.2L1205.5,1182.6L1206.1,1183.9L1206.8,1185.3L1207.5,1186.6L1208.2,1187.9L1208.9,1189.3L1209.6,1190.6L1210.3,1191.9L1211.0,1193.2L1211.7,1194.5L1212.4,1195.9L1213.1,1197.2L1213.8,1198.5L1214.5,1199.8L1215.2,1201.2L1215.9,1202.5L1216.6,1203.8L1217.2,1205.2L1217.9,1206.5L1218.5,1207.9L1219.2,1209.2L1219.8,1210.6L1220.4,1211.9L1221.1,1213.3L1221.7,1214.6L1222.3,1216.0L1222.9,1217.4L1223.5,1218.7L1224.1,1220.1L1224.7,1221.5L1225.3,1222.8L1225.9,1224.2L1226.5,1225.6L1227.1,1227.0L1227.6,1228.3L1228.2,1229.7L1228.8,1231.1L1229.4,1232.5L1229.9,1233.9L1230.5,1235.3L1231.0,1236.7L1231.6,1238.1L1232.1,1239.5L1232.7,1240.9L1233.2,1242.2L1233.8,1243.6L1234.3,1245.0L1234.9,1246.4L1235.4,1247.8L1236.0,1249.3L1236.5,1250.7L1237.0,1252.1L1237.6,1253.5L1238.1,1254.9L1238.7,1256.3L1239.2,1257.7L1239.7,1259.1L1240.3,1260.5L1240.8,1261.9L1241.3,1263.3L1241.9,1264.7L1242.4,1266.1L1243.0,1267.5L1243.5,1268.9L1244.1,1270.3L1244.6,1271.7L1245.2,1273.1L1245.7,1274.5L1246.3,1275.9L1246.8,1277.3L1247.4,1278.7L1248.0,1280.1L1248.6,1281.5L1249.1,1282.9L1249.7,1284.3L1250.3,1285.7L1250.9,1287.0L1251.5,1288.4L1252.1,1289.8L1252.8,1291.1L1253.4,1292.5L1254.0,1293.8L1254.7,1295.2L1255.3,1296.5L1256.0,1297.9L1256.6,1299.2L1257.3,1300.6L1258.0,1301.9L1258.7,1303.2L1259.4,1304.5L1260.1,1305.8L1260.8,1307.1L1261.6,1308.4L1262.3,1309.7L1263.1,1311.0L1263.8,1312.3L1264.6,1313.6L1265.4,1314.8L1266.2,1316.1L1267.0,1317.3L1267.9,1318.6L1268.7,1319.8L1269.6,1321.0L1270.4,1322.2L1271.3,1323.5L1272.2,1324.7L1273.2,1325.8L1274.1,1327.0L1275.0,1328.2L1276.0,1329.4L1277.0,1330.5L1278.0,1331.7L1279.0,1332.8L1280.0,1333.9L1281.0,1335.0L1282.1,1336.1L1283.2,1337.2L1284.3,1338.3L1285.4,1339.4L1286.5,1340.4L1287.7,1341.5L1288.9,1342.5L1290.1,1343.5L1291.3,1344.5L1292.5,1345.5L1293.7,1346.3L1295.0,1347.2L1296.3,1347.9L1297.5,1348.6L1298.8,1349.2L1300.1,1349.6L1301.5,1350.0L1302.8,1350.2L1304.1,1350.3L1305.4,1350.3L1306.8,1350.1L1308.1,1349.8L1309.5,1349.3L1310.8,1348.7L1312.1,1348.0L1313.5,1347.2L1314.8,1346.4L1316.1,1345.5L1317.4,1344.5L1318.7,1343.5L1320.0,1342.5L1321.2,1341.4L1322.5,1340.4L1323.7,1339.3L1324.9,1338.3L1326.1,1337.3L1327.2,1336.3L1328.4,1335.2L1329.5,1334.2L1330.6,1333.2L1331.7,1332.2L1332.8,1331.2L1333.9,1330.2L1335.0,1329.2L1336.1,1328.1L1337.1,1327.1L1338.2,1326.1L1339.3,1325.1L1340.3,1324.1L1341.4,1323.2L1342.5,1322.2L1343.5,1321.2L1344.6,1320.2L1345.7,1319.2L1346.8,1318.2L1347.9,1317.2L1349.0,1316.2L1350.1,1315.2L1351.2,1314.3L1352.4,1313.3L1353.5,1312.3L1354.7,1311.3L1355.9,1310.3L1357.0,1309.4L1358.2,1308.4L1359.4,1307.4L1360.5,1306.4L1361.7,1305.4L1362.8,1304.3L1363.9,1303.3L1365.0,1302.3L1366.1,1301.2L1367.1,1300.2L1368.1,1299.1L1369.1,1298.0L1370.1,1296.9L1371.0,1295.8L1372.0,1294.6L1372.9,1293.5L1373.8,1292.4L1374.8,1291.2L1375.8,1290.1L1376.7,1289.0L1377.7,1287.8L1378.8,1286.7L1379.8,1285.6L1380.9,1284.5L1382.1,1283.4L1383.3,1282.4L1384.6,1281.3L1385.9,1280.3L1387.2,1279.5L1388.6,1278.7L1389.9,1278.0L1391.3,1277.5L1392.7,1277.2L1394.1,1277.1L1395.5,1277.1L1396.8,1277.4L1398.2,1277.8L1399.5,1278.4L1400.8,1279.1L1402.1,1279.8L1403.4,1280.7L1404.7,1281.5L1406.0,1282.4L1407.2,1283.4L1408.4,1284.3L1409.6,1285.2L1410.8,1286.2L1412.0,1287.2L1413.2,1288.1L1414.3,1289.1L1415.5,1290.1L1416.6,1291.1L1417.7,1292.1L1418.9,1293.2L1420.0,1294.2L1421.1,1295.3L1422.1,1296.3L1423.2,1297.4L1424.3,1298.4L1425.3,1299.5L1426.4,1300.6L1427.5,1301.7L1428.5,1302.7L1429.5,1303.8L1430.6,1304.9L1431.6,1306.0L1432.6,1307.1L1433.7,1308.2L1434.7,1309.3L1435.7,1310.4L1436.7,1311.5L1437.8,1312.6L1438.8,1313.7L1439.8,1314.8L1440.9,1315.9L1441.9,1317.0L1442.9,1318.0L1444.0,1319.1L1445.0,1320.2L1446.0,1321.2L1447.1,1322.3L1448.2,1323.4L1449.2,1324.4L1450.3,1325.4L1451.4,1326.5L1452.5,1327.5L1453.6,1328.5L1454.7,1329.5L1455.8,1330.5L1456.9,1331.5L1458.0,1332.5L1459.2,1333.4L1460.3,1334.4L1461.5,1335.4L1462.6,1336.3L1463.8,1337.2L1465.0,1338.2L1466.1,1339.1L1467.3,1340.0L1468.5,1340.9L1469.7,1341.8L1470.9,1342.7L1472.1,1343.6L1473.4,1344.5L1474.6,1345.3L1475.8,1346.2L1477.0,1347.1L1478.3,1347.9L1479.5,1348.7L1480.8,1349.6L1482.0,1350.4L1483.3,1351.2L1484.6,1352.0L1485.8,1352.8L1487.1,1353.6L1488.4,1354.4L1489.7,1355.2L1491.0,1356.0L1492.3,1356.8L1493.6,1357.5L1494.9,1358.3L1496.2,1359.1L1497.5,1359.8L1498.8,1360.6L1500.1,1361.3L1501.4,1362.0L1502.7,1362.7L1504.1,1363.5L1505.4,1364.2L1506.7,1364.9L1508.1,1365.6L1509.4,1366.2L1510.8,1366.9L1512.1,1367.6L1513.5,1368.2L1514.8,1368.9L1516.2,1369.5L1517.6,1370.1L1518.9,1370.7L1520.3,1371.3L1521.7,1371.9L1523.1,1372.5L1524.5,1373.0L1525.9,1373.6L1527.3,1374.1L1528.7,1374.6L1530.1,1375.1L1531.5,1375.6L1532.9,1376.0L1534.4,1376.5L1535.8,1376.9L1537.2,1377.3L1538.7,1377.7L1540.1,1378.1L1541.6,1378.5L1543.1,1378.9L1544.5,1379.2L1546.0,1379.6L1547.4,1379.9L1548.9,1380.2L1550.4,1380.5L1551.8,1380.8L1553.3,1381.2L1554.8,1381.5L1556.3,1381.8L1557.7,1382.0L1559.2,1382.3L1560.7,1382.6L1562.2,1382.9L1563.6,1383.2L1565.1,1383.5L1566.6,1383.7L1568.1,1384.0L1569.5,1384.2L1571.0,1384.5L1572.5,1384.7L1574.0,1385.0L1575.5,1385.2L1576.9,1385.5L1578.4,1385.7L1579.9,1385.9L1581.4,1386.2L1582.9,1386.4L1584.3,1386.6L1585.8,1386.8L1587.3,1387.1L1588.8,1387.3L1590.3,1387.5L1591.8,1387.7L1593.2,1387.9L1594.7,1388.1L1596.2,1388.3L1597.7,1388.5L1599.2,1388.6L1600.7,1388.8L1602.2,1389.0L1603.7,1389.2L1605.1,1389.4L1606.6,1389.5L1608.1,1389.7L1609.6,1389.9L1611.1,1390.0L1612.6,1390.2L1614.1,1390.3L1615.6,1390.5L1617.1,1390.7L1618.6,1390.8L1620.0,1390.9L1621.5,1391.1L1623.0,1391.2L1624.5,1391.4L1626.0,1391.5L1627.5,1391.6L1629.0,1391.8L1630.5,1391.9L1632.0,1392.0L1633.5,1392.1L1635.0,1392.3L1636.5,1392.4L1638.0,1392.5L1639.5,1392.6L1641.0,1392.7L1642.5,1392.8L1644.0,1393.0L1645.5,1393.1L1647.0,1393.2L1648.5,1393.3L1650.0,1393.4L1651.4,1393.5L1652.9,1393.6L1654.4,1393.7L1655.9,1393.8L1657.4,1393.9L1658.9,1393.9L1660.4,1394.0L1661.9,1394.1L1663.4,1394.2L1664.9,1394.3L1666.4,1394.4L1667.9,1394.5L1669.4,1394.5L1670.9,1394.6L1672.4,1394.7L1673.9,1394.8L1675.4,1394.9L1676.9,1394.9L1678.4,1395.0L1679.9,1395.1L1681.4,1395.1L1682.9,1395.2L1684.4,1395.3L1685.9,1395.4L1687.4,1395.4L1688.9,1395.5L1690.4,1395.6L1691.9,1395.6L1693.4,1395.7L1694.9,1395.8L1696.4,1395.8L1697.9,1395.9L1699.4,1395.9L1701.0,1396.0L1702.5,1396.1L1704.0,1396.1L1705.5,1396.2L1707.0,1396.3L1708.5,1396.3L1710.0,1396.4L1711.5,1396.4L1713.0,1396.5L1714.5,1396.6L1716.0,1396.6L1717.5,1396.7L1719.0,1396.7L1720.5,1396.8L1722.0,1396.9L1723.5,1396.9L1725.0,1397.0L1726.5,1397.0L1728.0,1397.1L1729.5,1397.2L1731.0,1397.2L1732.5,1397.3L1734.0,1397.3L1735.5,1397.4L1737.0,1397.5L1738.5,1397.5L1740.0,1397.6L1741.5,1397.6L1743.0,1397.7L1744.5,1397.8L1746.0,1397.8L1747.5,1397.9L1749.0,1397.9L1750.5,1398.0L1752.0,1398.0L1753.5,1398.1L1755.0,1398.2L1756.5,1398.2L1758.0,1398.3L1759.5,1398.3L1761.0,1398.4L1762.5,1398.4L1764.0,1398.5L1765.5,1398.6L1767.0,1398.6L1768.5,1398.7L1770.0,1398.7L1771.5,1398.8L1773.0,1398.8L1774.5,1398.9L1776.0,1398.9L1777.5,1399.0L1779.0,1399.0L1780.5,1399.1L1782.0,1399.2L1783.5,1399.2L1785.0,1399.3L1786.5,1399.3L1788.0,1399.4L1789.5,1399.4L1791.0,1399.5L1792.4,1399.5L1793.9,1399.6L1795.4,1399.6L1796.9,1399.7L1798.4,1399.7L1799.9,1399.8L1801.4,1399.8L1802.9,1399.9L1804.4,1399.9L1805.9,1400.0L1807.4,1400.0L1808.9,1400.1L1810.4,1400.1L1811.9,1400.1L1813.4,1400.2L1814.9,1400.2L1816.4,1400.3L1817.9,1400.3L1819.4,1400.4L1820.9,1400.4L1822.4,1400.5L1823.9,1400.5L1825.4,1400.5L1826.9,1400.6L1828.4,1400.6L1829.9,1400.7L1831.4,1400.7L1832.9,1400.7L1834.4,1400.8L1835.9,1400.8L1837.4,1400.9L1838.9,1400.9L1840.4,1400.9L1841.9,1401.0L1843.4,1401.0L1844.9,1401.0L1846.4,1401.1L1847.9,1401.1L1849.4,1401.2L1850.9,1401.2L1852.4,1401.2L1853.9,1401.3L1855.4,1401.3L1856.9,1401.3L1858.4,1401.3L1859.9,1401.4L1861.4,1401.4L1862.9,1401.4L1864.4,1401.5L1865.9,1401.5L1867.4,1401.5L1868.9,1401.5L1870.4,1401.6L1871.9,1401.6L1873.4,1401.6L1874.9,1401.6L1876.4,1401.7L1877.9,1401.7L1879.4,1401.7L1880.9,1401.7L1882.4,1401.8L1883.9,1401.8L1885.4,1401.8L1886.9,1401.8L1888.4,1401.8L1889.9,1401.8L1891.4,1401.9L1892.9,1401.9L1894.4,1401.9L1895.9,1401.9L1897.4,1401.9L1898.9,1401.9L1900.4,1401.9L1901.9,1402.0L1903.4,1402.0L1904.9,1402.0L1906.4,1402.0L1907.9,1402.0L1909.4,1402.0L1910.9,1402.0L1912.4,1402.0L1913.9,1402.0L1915.4,1402.0L1916.9,1402.0L1918.4,1402.0L1919.9,1402.0L1921.4,1402.0L1922.9,1402.0L1924.4,1402.0L1925.9,1402.0L1927.4,1402.0L1928.9,1402.0L1930.4,1402.0L1931.9,1402.0L1933.4,1402.0L1935.0,1402.0L1936.5,1402.0L1938.0,1402.0L1939.5,1402.0L1941.0,1402.0L1942.5,1401.9L1944.0,1401.9L1945.5,1401.9L1947.0,1401.9L1948.5,1401.9L1950.0,1401.9L1951.5,1401.9L1953.0,1401.8L1954.5,1401.8L1956.0,1401.8L1957.5,1401.8L1959.0,1401.8L1960.5,1401.7L1962.0,1401.7L1963.5,1401.7L1965.0,1401.7" fill="none" stroke="#0000ff" stroke-width="7.80" stroke-linejoin="round" stroke-linecap="round"/>
<g fill="#000"><rect x="271.0" y="24.0" width="6.0" height="1488.0"/><rect x="2114.0" y="24.0" width="6.0" height="1500.0"/><rect x="271.0" y="24.0" width="1849.0" height="6.0"/><rect x="271.0" y="1506.0" width="1849.0" height="6.0"/><rect x="260.0" y="1506.0" width="11.0" height="6.0"/><rect x="245.0" y="1400.0" width="26.0" height="6.0"/><rect x="260.0" y="1294.0" width="11.0" height="6.0"/><rect x="245.0" y="1188.0" width="26.0" height="6.0"/><rect x="260.0" y="1082.0" width="11.0" height="6.0"/><rect x="245.0" y="977.0" width="26.0" height="6.0"/><rect x="260.0" y="871.0" width="11.0" height="6.0"/><rect x="245.0" y="765.0" width="26.0" height="6.0"/><rect x="260.0" y="659.0" width="11.0" height="6.0"/><rect x="245.0" y="553.0" width="26.0" height="6.0"/><rect x="260.0" y="447.0" width="11.0" height="6.0"/><rect x="245.0" y="342.0" width="26.0" height="6.0"/><rect x="260.0" y="236.0" width="11.0" height="6.0"/><rect x="245.0" y="130.0" width="26.0" height="6.0"/><rect x="260.0" y="24.0" width="11.0" height="6.0"/><rect x="271.0" y="1512.0" width="6.0" height="26.0"/><rect x="345.0" y="1512.0" width="6.0" height="12.0"/><rect x="418.0" y="1512.0" width="6.0" height="26.0"/><rect x="492.0" y="1512.0" width="6.0" height="12.0"/><rect x="565.0" y="1512.0" width="6.0" height="26.0"/><rect x="639.0" y="1512.0" width="6.0" height="12.0"/><rect x="713.0" y="1512.0" width="6.0" height="26.0"/><rect x="787.0" y="1512.0" width="6.0" height="12.0"/><rect x="860.0" y="1512.0" width="6.0" height="26.0"/><rect x="934.0" y="1512.0" width="6.0" height="12.0"/><rect x="1008.0" y="1512.0" width="6.0" height="26.0"/><rect x="1082.0" y="1512.0" width="6.0" height="12.0"/><rect x="1155.0" y="1512.0" width="6.0" height="26.0"/><rect x="1229.0" y="1512.0" width="6.0" height="12.0"/><rect x="1303.0" y="1512.0" width="6.0" height="26.0"/><rect x="1377.0" y="1512.0" width="6.0" height="12.0"/><rect x="1450.0" y="1512.0" width="6.0" height="26.0"/><rect x="1524.0" y="1512.0" width="6.0" height="12.0"/><rect x="1598.0" y="1512.0" width="6.0" height="26.0"/><rect x="1672.0" y="1512.0" width="6.0" height="12.0"/><rect x="1745.0" y="1512.0" width="6.0" height="26.0"/><rect x="1819.0" y="1512.0" width="6.0" height="12.0"/><rect x="1893.0" y="1512.0" width="6.0" height="26.0"/><rect x="1967.0" y="1512.0" width="6.0" height="12.0"/><rect x="2040.0" y="1512.0" width="6.0" height="26.0"/><rect x="2114.0" y="1512.0" width="6.0" height="12.0"/></g>
<g font-size="66.0"><text x="225.5" y="1602.0" text-anchor="start" textLength="97.0" lengthAdjust="spacingAndGlyphs">−10</text><text x="420.9" y="1602.0" text-anchor="middle">0</text><text x="568.4" y="1602.0" text-anchor="middle">10</text><text x="715.9" y="1602.0" text-anchor="middle">20</text><text x="863.4" y="1602.0" text-anchor="middle">30</text><text x="1010.9" y="1602.0" text-anchor="middle">40</text><text x="1158.4" y="1602.0" text-anchor="middle">50</text><text x="1305.9" y="1602.0" text-anchor="middle">60</text><text x="1453.4" y="1602.0" text-anchor="middle">70</text><text x="1600.9" y="1602.0" text-anchor="middle">80</text><text x="1748.4" y="1602.0" text-anchor="middle">90</text><text x="1895.9" y="1602.0" text-anchor="middle">100</text><text x="2043.4" y="1602.0" text-anchor="middle">110</text></g>
<g font-size="66.0"><text x="226.0" y="1418.0" text-anchor="end">0</text><text x="226.0" y="1206.3" text-anchor="end">100</text><text x="226.0" y="994.7" text-anchor="end">200</text><text x="226.0" y="783.0" text-anchor="end">300</text><text x="226.0" y="571.3" text-anchor="end">400</text><text x="226.0" y="359.7" text-anchor="end">500</text><text x="226.0" y="148.0" text-anchor="end">600</text></g>
<text x="1006.0" y="1754.0" font-size="78.0" textLength="377.0" lengthAdjust="spacingAndGlyphs">Time (min)</text>
<text transform="translate(91.0,1264.0) rotate(-90)" x="0" y="0" font-size="78.0" textLength="991.0" lengthAdjust="spacingAndGlyphs">Tosoh SEC UV Signal (mAU)</text>
<rect x="1341.2" y="32.5" width="771.3" height="338.7" fill="#fff" stroke="#000" stroke-width="2.6"/>
<line x1="1349" y1="77.6" x2="1500" y2="77.6" stroke="#000" stroke-width="7.90" stroke-linecap="round"/>
<text x="1515.0" y="99.6" font-size="59.0" textLength="590.0" lengthAdjust="spacingAndGlyphs">Product depth filtration</text>
<line x1="1349" y1="160.8" x2="1500" y2="160.8" stroke="#008000" stroke-width="7.90" stroke-linecap="round"/>
<text x="1515.0" y="182.7" font-size="59.0" textLength="321.0" lengthAdjust="spacingAndGlyphs">UF Permeate</text>
<line x1="1349" y1="243.9" x2="1500" y2="243.9" stroke="#ff0000" stroke-width="7.90" stroke-linecap="round"/>
<text x="1515.0" y="266.3" font-size="59.0" textLength="324.0" lengthAdjust="spacingAndGlyphs">DF Retentate</text>
<line x1="1349" y1="327.0" x2="1500" y2="327.0" stroke="#0000ff" stroke-width="7.90" stroke-linecap="round"/>
<text x="1515.0" y="349.0" font-size="59.0" textLength="321.0" lengthAdjust="spacingAndGlyphs">DF Permeate</text>
</svg>
</body></html>
